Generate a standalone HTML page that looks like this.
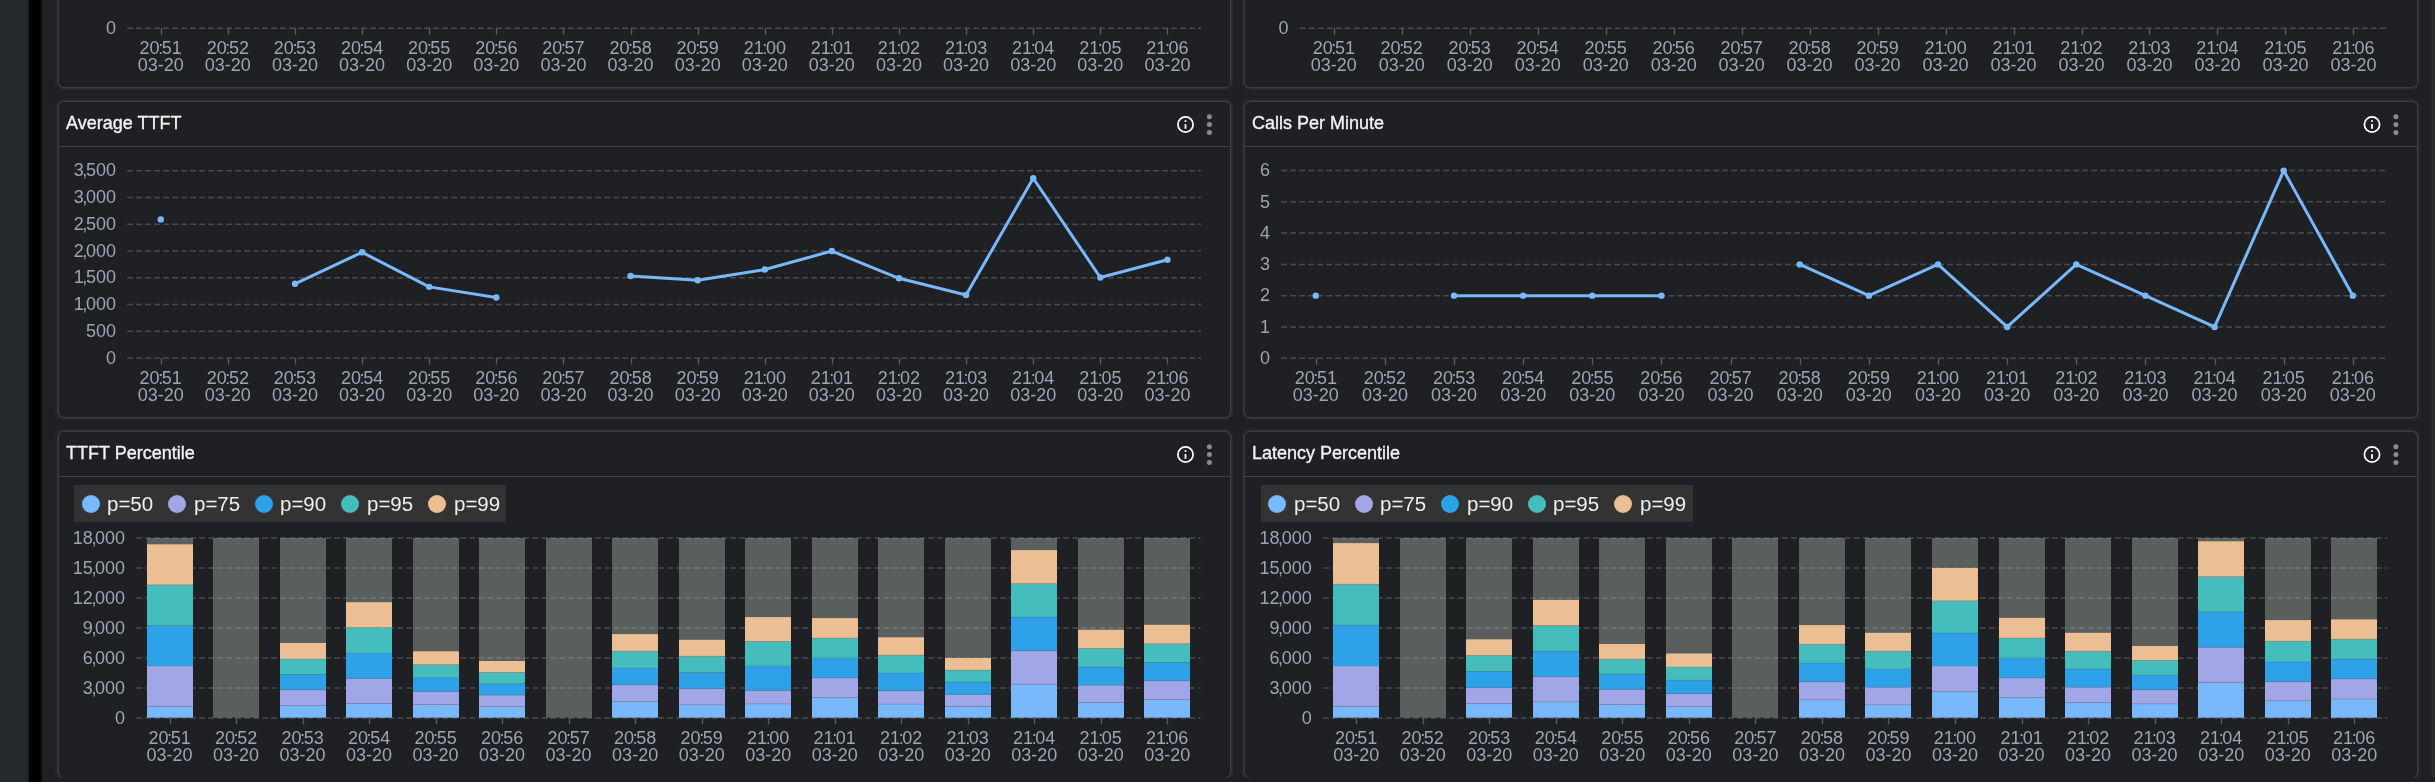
<!DOCTYPE html>
<html><head><meta charset="utf-8"><style>
html,body{margin:0;padding:0;width:2435px;height:782px;overflow:hidden;background:#1f2023;font-family:'Liberation Sans', sans-serif;}
.abs{position:absolute}
#lstrip{position:absolute;left:0;top:0;width:29px;height:782px;background:#25292d}
#black{position:absolute;left:29px;top:0;width:11px;height:782px;background:#000;box-shadow:1px 0 3px 1px rgba(0,0,0,0.85)}
#edge{position:absolute;left:43px;top:0;width:1px;height:782px;background:#27282b}
#sb{position:absolute;left:2431px;top:0;width:4px;height:777px;background:#2c2c2c}
.panel{position:absolute;box-sizing:border-box;border:1px solid #3b3e43;border-radius:6px;background:#1f2023;box-shadow:0 0 0 0.5px rgba(62,65,70,0.7), 0 0 4px 0.5px rgba(255,255,255,0.07)}
.hdrline{position:absolute;height:1.2px;background:#404246}
.title{position:absolute;font-size:18px;line-height:22px;color:#f2f2f2;white-space:nowrap;-webkit-text-stroke:0.35px #f2f2f2}
.legend{position:absolute;background:#333333}
.ldot{position:absolute;width:18px;height:18px;border-radius:50%}
.ltxt{position:absolute;font-size:20.5px;line-height:24px;color:#eeeeee;white-space:nowrap}
svg text{font-family:'Liberation Sans', sans-serif}
.abs,.title,.ltxt{will-change:transform}
</style></head><body>
<div id="lstrip"></div><div id="black"></div><div id="edge"></div><div id="sb"></div>
<div class="panel" style="left:58px;top:-229px;width:1173px;height:317px;"></div><div class="panel" style="left:1244px;top:-229px;width:1174px;height:317px;"></div><div class="panel" style="left:58px;top:101px;width:1173px;height:317px;"></div><div class="hdrline" style="left:59px;top:146px;width:1171px"></div><div class="title" style="left:66px;top:111.5px">Average TTFT</div><div class="panel" style="left:1244px;top:101px;width:1174px;height:317px;"></div><div class="hdrline" style="left:1245px;top:146px;width:1172px"></div><div class="title" style="left:1252px;top:111.5px">Calls Per Minute</div><div class="panel" style="left:58px;top:431px;width:1173px;height:347px;border-bottom:none;"></div><div class="hdrline" style="left:59px;top:476px;width:1171px"></div><div class="title" style="left:66px;top:441.5px">TTFT Percentile</div><div class="panel" style="left:1244px;top:431px;width:1174px;height:347px;border-bottom:none;"></div><div class="hdrline" style="left:1245px;top:476px;width:1172px"></div><div class="title" style="left:1252px;top:441.5px">Latency Percentile</div>
<div style="position:absolute;left:50px;top:778px;width:2375px;height:10px;background:#1f2023"></div>
<svg class="abs" style="left:0;top:0" width="2435" height="782" viewBox="0 0 2435 782">
<line x1="127.2" y1="28.20" x2="1201" y2="28.20" stroke="#4a4b4f" stroke-width="1.5" stroke-dasharray="5.8 3.2"/>
<text x="116.00" y="33.95" text-anchor="end" font-size="18" fill="#9fa4ae">0</text>
<line x1="161.5" y1="28.20" x2="161.5" y2="34.80" stroke="#5c5e63" stroke-width="1.3"/>
<text x="160.76" y="54.20" text-anchor="middle" font-size="18" fill="#9fa4ae">20<tspan dx="-1.4">:</tspan><tspan dx="-1.4">51</tspan></text>
<text x="160.76" y="71.20" text-anchor="middle" font-size="18" fill="#9fa4ae">03-20</text>
<line x1="228.5" y1="28.20" x2="228.5" y2="34.80" stroke="#5c5e63" stroke-width="1.3"/>
<text x="227.87" y="54.20" text-anchor="middle" font-size="18" fill="#9fa4ae">20<tspan dx="-1.4">:</tspan><tspan dx="-1.4">52</tspan></text>
<text x="227.87" y="71.20" text-anchor="middle" font-size="18" fill="#9fa4ae">03-20</text>
<line x1="295.5" y1="28.20" x2="295.5" y2="34.80" stroke="#5c5e63" stroke-width="1.3"/>
<text x="294.98" y="54.20" text-anchor="middle" font-size="18" fill="#9fa4ae">20<tspan dx="-1.4">:</tspan><tspan dx="-1.4">53</tspan></text>
<text x="294.98" y="71.20" text-anchor="middle" font-size="18" fill="#9fa4ae">03-20</text>
<line x1="362.5" y1="28.20" x2="362.5" y2="34.80" stroke="#5c5e63" stroke-width="1.3"/>
<text x="362.09" y="54.20" text-anchor="middle" font-size="18" fill="#9fa4ae">20<tspan dx="-1.4">:</tspan><tspan dx="-1.4">54</tspan></text>
<text x="362.09" y="71.20" text-anchor="middle" font-size="18" fill="#9fa4ae">03-20</text>
<line x1="429.5" y1="28.20" x2="429.5" y2="34.80" stroke="#5c5e63" stroke-width="1.3"/>
<text x="429.21" y="54.20" text-anchor="middle" font-size="18" fill="#9fa4ae">20<tspan dx="-1.4">:</tspan><tspan dx="-1.4">55</tspan></text>
<text x="429.21" y="71.20" text-anchor="middle" font-size="18" fill="#9fa4ae">03-20</text>
<line x1="496.5" y1="28.20" x2="496.5" y2="34.80" stroke="#5c5e63" stroke-width="1.3"/>
<text x="496.32" y="54.20" text-anchor="middle" font-size="18" fill="#9fa4ae">20<tspan dx="-1.4">:</tspan><tspan dx="-1.4">56</tspan></text>
<text x="496.32" y="71.20" text-anchor="middle" font-size="18" fill="#9fa4ae">03-20</text>
<line x1="563.5" y1="28.20" x2="563.5" y2="34.80" stroke="#5c5e63" stroke-width="1.3"/>
<text x="563.43" y="54.20" text-anchor="middle" font-size="18" fill="#9fa4ae">20<tspan dx="-1.4">:</tspan><tspan dx="-1.4">57</tspan></text>
<text x="563.43" y="71.20" text-anchor="middle" font-size="18" fill="#9fa4ae">03-20</text>
<line x1="631.5" y1="28.20" x2="631.5" y2="34.80" stroke="#5c5e63" stroke-width="1.3"/>
<text x="630.54" y="54.20" text-anchor="middle" font-size="18" fill="#9fa4ae">20<tspan dx="-1.4">:</tspan><tspan dx="-1.4">58</tspan></text>
<text x="630.54" y="71.20" text-anchor="middle" font-size="18" fill="#9fa4ae">03-20</text>
<line x1="698.5" y1="28.20" x2="698.5" y2="34.80" stroke="#5c5e63" stroke-width="1.3"/>
<text x="697.66" y="54.20" text-anchor="middle" font-size="18" fill="#9fa4ae">20<tspan dx="-1.4">:</tspan><tspan dx="-1.4">59</tspan></text>
<text x="697.66" y="71.20" text-anchor="middle" font-size="18" fill="#9fa4ae">03-20</text>
<line x1="765.5" y1="28.20" x2="765.5" y2="34.80" stroke="#5c5e63" stroke-width="1.3"/>
<text x="764.77" y="54.20" text-anchor="middle" font-size="18" fill="#9fa4ae">21<tspan dx="-1.4">:</tspan><tspan dx="-1.4">00</tspan></text>
<text x="764.77" y="71.20" text-anchor="middle" font-size="18" fill="#9fa4ae">03-20</text>
<line x1="832.5" y1="28.20" x2="832.5" y2="34.80" stroke="#5c5e63" stroke-width="1.3"/>
<text x="831.88" y="54.20" text-anchor="middle" font-size="18" fill="#9fa4ae">21<tspan dx="-1.4">:</tspan><tspan dx="-1.4">01</tspan></text>
<text x="831.88" y="71.20" text-anchor="middle" font-size="18" fill="#9fa4ae">03-20</text>
<line x1="899.5" y1="28.20" x2="899.5" y2="34.80" stroke="#5c5e63" stroke-width="1.3"/>
<text x="898.99" y="54.20" text-anchor="middle" font-size="18" fill="#9fa4ae">21<tspan dx="-1.4">:</tspan><tspan dx="-1.4">02</tspan></text>
<text x="898.99" y="71.20" text-anchor="middle" font-size="18" fill="#9fa4ae">03-20</text>
<line x1="966.5" y1="28.20" x2="966.5" y2="34.80" stroke="#5c5e63" stroke-width="1.3"/>
<text x="966.11" y="54.20" text-anchor="middle" font-size="18" fill="#9fa4ae">21<tspan dx="-1.4">:</tspan><tspan dx="-1.4">03</tspan></text>
<text x="966.11" y="71.20" text-anchor="middle" font-size="18" fill="#9fa4ae">03-20</text>
<line x1="1033.5" y1="28.20" x2="1033.5" y2="34.80" stroke="#5c5e63" stroke-width="1.3"/>
<text x="1033.22" y="54.20" text-anchor="middle" font-size="18" fill="#9fa4ae">21<tspan dx="-1.4">:</tspan><tspan dx="-1.4">04</tspan></text>
<text x="1033.22" y="71.20" text-anchor="middle" font-size="18" fill="#9fa4ae">03-20</text>
<line x1="1100.5" y1="28.20" x2="1100.5" y2="34.80" stroke="#5c5e63" stroke-width="1.3"/>
<text x="1100.33" y="54.20" text-anchor="middle" font-size="18" fill="#9fa4ae">21<tspan dx="-1.4">:</tspan><tspan dx="-1.4">05</tspan></text>
<text x="1100.33" y="71.20" text-anchor="middle" font-size="18" fill="#9fa4ae">03-20</text>
<line x1="1167.5" y1="28.20" x2="1167.5" y2="34.80" stroke="#5c5e63" stroke-width="1.3"/>
<text x="1167.44" y="54.20" text-anchor="middle" font-size="18" fill="#9fa4ae">21<tspan dx="-1.4">:</tspan><tspan dx="-1.4">06</tspan></text>
<text x="1167.44" y="71.20" text-anchor="middle" font-size="18" fill="#9fa4ae">03-20</text>
<line x1="1299.8" y1="28.20" x2="2387.4" y2="28.20" stroke="#4a4b4f" stroke-width="1.5" stroke-dasharray="5.8 3.2"/>
<text x="1288.60" y="33.95" text-anchor="end" font-size="18" fill="#9fa4ae">0</text>
<line x1="1334.5" y1="28.20" x2="1334.5" y2="34.80" stroke="#5c5e63" stroke-width="1.3"/>
<text x="1333.79" y="54.20" text-anchor="middle" font-size="18" fill="#9fa4ae">20<tspan dx="-1.4">:</tspan><tspan dx="-1.4">51</tspan></text>
<text x="1333.79" y="71.20" text-anchor="middle" font-size="18" fill="#9fa4ae">03-20</text>
<line x1="1402.5" y1="28.20" x2="1402.5" y2="34.80" stroke="#5c5e63" stroke-width="1.3"/>
<text x="1401.76" y="54.20" text-anchor="middle" font-size="18" fill="#9fa4ae">20<tspan dx="-1.4">:</tspan><tspan dx="-1.4">52</tspan></text>
<text x="1401.76" y="71.20" text-anchor="middle" font-size="18" fill="#9fa4ae">03-20</text>
<line x1="1470.5" y1="28.20" x2="1470.5" y2="34.80" stroke="#5c5e63" stroke-width="1.3"/>
<text x="1469.74" y="54.20" text-anchor="middle" font-size="18" fill="#9fa4ae">20<tspan dx="-1.4">:</tspan><tspan dx="-1.4">53</tspan></text>
<text x="1469.74" y="71.20" text-anchor="middle" font-size="18" fill="#9fa4ae">03-20</text>
<line x1="1538.5" y1="28.20" x2="1538.5" y2="34.80" stroke="#5c5e63" stroke-width="1.3"/>
<text x="1537.71" y="54.20" text-anchor="middle" font-size="18" fill="#9fa4ae">20<tspan dx="-1.4">:</tspan><tspan dx="-1.4">54</tspan></text>
<text x="1537.71" y="71.20" text-anchor="middle" font-size="18" fill="#9fa4ae">03-20</text>
<line x1="1606.5" y1="28.20" x2="1606.5" y2="34.80" stroke="#5c5e63" stroke-width="1.3"/>
<text x="1605.69" y="54.20" text-anchor="middle" font-size="18" fill="#9fa4ae">20<tspan dx="-1.4">:</tspan><tspan dx="-1.4">55</tspan></text>
<text x="1605.69" y="71.20" text-anchor="middle" font-size="18" fill="#9fa4ae">03-20</text>
<line x1="1674.5" y1="28.20" x2="1674.5" y2="34.80" stroke="#5c5e63" stroke-width="1.3"/>
<text x="1673.66" y="54.20" text-anchor="middle" font-size="18" fill="#9fa4ae">20<tspan dx="-1.4">:</tspan><tspan dx="-1.4">56</tspan></text>
<text x="1673.66" y="71.20" text-anchor="middle" font-size="18" fill="#9fa4ae">03-20</text>
<line x1="1742.5" y1="28.20" x2="1742.5" y2="34.80" stroke="#5c5e63" stroke-width="1.3"/>
<text x="1741.64" y="54.20" text-anchor="middle" font-size="18" fill="#9fa4ae">20<tspan dx="-1.4">:</tspan><tspan dx="-1.4">57</tspan></text>
<text x="1741.64" y="71.20" text-anchor="middle" font-size="18" fill="#9fa4ae">03-20</text>
<line x1="1810.5" y1="28.20" x2="1810.5" y2="34.80" stroke="#5c5e63" stroke-width="1.3"/>
<text x="1809.61" y="54.20" text-anchor="middle" font-size="18" fill="#9fa4ae">20<tspan dx="-1.4">:</tspan><tspan dx="-1.4">58</tspan></text>
<text x="1809.61" y="71.20" text-anchor="middle" font-size="18" fill="#9fa4ae">03-20</text>
<line x1="1878.5" y1="28.20" x2="1878.5" y2="34.80" stroke="#5c5e63" stroke-width="1.3"/>
<text x="1877.59" y="54.20" text-anchor="middle" font-size="18" fill="#9fa4ae">20<tspan dx="-1.4">:</tspan><tspan dx="-1.4">59</tspan></text>
<text x="1877.59" y="71.20" text-anchor="middle" font-size="18" fill="#9fa4ae">03-20</text>
<line x1="1946.5" y1="28.20" x2="1946.5" y2="34.80" stroke="#5c5e63" stroke-width="1.3"/>
<text x="1945.56" y="54.20" text-anchor="middle" font-size="18" fill="#9fa4ae">21<tspan dx="-1.4">:</tspan><tspan dx="-1.4">00</tspan></text>
<text x="1945.56" y="71.20" text-anchor="middle" font-size="18" fill="#9fa4ae">03-20</text>
<line x1="2014.5" y1="28.20" x2="2014.5" y2="34.80" stroke="#5c5e63" stroke-width="1.3"/>
<text x="2013.54" y="54.20" text-anchor="middle" font-size="18" fill="#9fa4ae">21<tspan dx="-1.4">:</tspan><tspan dx="-1.4">01</tspan></text>
<text x="2013.54" y="71.20" text-anchor="middle" font-size="18" fill="#9fa4ae">03-20</text>
<line x1="2082.5" y1="28.20" x2="2082.5" y2="34.80" stroke="#5c5e63" stroke-width="1.3"/>
<text x="2081.51" y="54.20" text-anchor="middle" font-size="18" fill="#9fa4ae">21<tspan dx="-1.4">:</tspan><tspan dx="-1.4">02</tspan></text>
<text x="2081.51" y="71.20" text-anchor="middle" font-size="18" fill="#9fa4ae">03-20</text>
<line x1="2149.5" y1="28.20" x2="2149.5" y2="34.80" stroke="#5c5e63" stroke-width="1.3"/>
<text x="2149.49" y="54.20" text-anchor="middle" font-size="18" fill="#9fa4ae">21<tspan dx="-1.4">:</tspan><tspan dx="-1.4">03</tspan></text>
<text x="2149.49" y="71.20" text-anchor="middle" font-size="18" fill="#9fa4ae">03-20</text>
<line x1="2217.5" y1="28.20" x2="2217.5" y2="34.80" stroke="#5c5e63" stroke-width="1.3"/>
<text x="2217.46" y="54.20" text-anchor="middle" font-size="18" fill="#9fa4ae">21<tspan dx="-1.4">:</tspan><tspan dx="-1.4">04</tspan></text>
<text x="2217.46" y="71.20" text-anchor="middle" font-size="18" fill="#9fa4ae">03-20</text>
<line x1="2285.5" y1="28.20" x2="2285.5" y2="34.80" stroke="#5c5e63" stroke-width="1.3"/>
<text x="2285.44" y="54.20" text-anchor="middle" font-size="18" fill="#9fa4ae">21<tspan dx="-1.4">:</tspan><tspan dx="-1.4">05</tspan></text>
<text x="2285.44" y="71.20" text-anchor="middle" font-size="18" fill="#9fa4ae">03-20</text>
<line x1="2353.5" y1="28.20" x2="2353.5" y2="34.80" stroke="#5c5e63" stroke-width="1.3"/>
<text x="2353.41" y="54.20" text-anchor="middle" font-size="18" fill="#9fa4ae">21<tspan dx="-1.4">:</tspan><tspan dx="-1.4">06</tspan></text>
<text x="2353.41" y="71.20" text-anchor="middle" font-size="18" fill="#9fa4ae">03-20</text>
<line x1="127.2" y1="358.00" x2="1201" y2="358.00" stroke="#4a4b4f" stroke-width="1.5" stroke-dasharray="5.8 3.2"/>
<text x="116.00" y="363.75" text-anchor="end" font-size="18" fill="#9fa4ae">0</text>
<line x1="127.2" y1="331.24" x2="1201" y2="331.24" stroke="#4a4b4f" stroke-width="1.5" stroke-dasharray="5.8 3.2"/>
<text x="116.00" y="336.99" text-anchor="end" font-size="18" fill="#9fa4ae">500</text>
<line x1="127.2" y1="304.48" x2="1201" y2="304.48" stroke="#4a4b4f" stroke-width="1.5" stroke-dasharray="5.8 3.2"/>
<text x="116.00" y="310.23" text-anchor="end" font-size="18" fill="#9fa4ae">1<tspan dx="-1.4">,</tspan><tspan dx="-1.4">000</tspan></text>
<line x1="127.2" y1="277.72" x2="1201" y2="277.72" stroke="#4a4b4f" stroke-width="1.5" stroke-dasharray="5.8 3.2"/>
<text x="116.00" y="283.47" text-anchor="end" font-size="18" fill="#9fa4ae">1<tspan dx="-1.4">,</tspan><tspan dx="-1.4">500</tspan></text>
<line x1="127.2" y1="250.96" x2="1201" y2="250.96" stroke="#4a4b4f" stroke-width="1.5" stroke-dasharray="5.8 3.2"/>
<text x="116.00" y="256.71" text-anchor="end" font-size="18" fill="#9fa4ae">2<tspan dx="-1.4">,</tspan><tspan dx="-1.4">000</tspan></text>
<line x1="127.2" y1="224.20" x2="1201" y2="224.20" stroke="#4a4b4f" stroke-width="1.5" stroke-dasharray="5.8 3.2"/>
<text x="116.00" y="229.95" text-anchor="end" font-size="18" fill="#9fa4ae">2<tspan dx="-1.4">,</tspan><tspan dx="-1.4">500</tspan></text>
<line x1="127.2" y1="197.44" x2="1201" y2="197.44" stroke="#4a4b4f" stroke-width="1.5" stroke-dasharray="5.8 3.2"/>
<text x="116.00" y="203.19" text-anchor="end" font-size="18" fill="#9fa4ae">3<tspan dx="-1.4">,</tspan><tspan dx="-1.4">000</tspan></text>
<line x1="127.2" y1="170.68" x2="1201" y2="170.68" stroke="#4a4b4f" stroke-width="1.5" stroke-dasharray="5.8 3.2"/>
<text x="116.00" y="176.43" text-anchor="end" font-size="18" fill="#9fa4ae">3<tspan dx="-1.4">,</tspan><tspan dx="-1.4">500</tspan></text>
<line x1="161.5" y1="358.00" x2="161.5" y2="364.60" stroke="#5c5e63" stroke-width="1.3"/>
<text x="160.76" y="384.00" text-anchor="middle" font-size="18" fill="#9fa4ae">20<tspan dx="-1.4">:</tspan><tspan dx="-1.4">51</tspan></text>
<text x="160.76" y="401.00" text-anchor="middle" font-size="18" fill="#9fa4ae">03-20</text>
<line x1="228.5" y1="358.00" x2="228.5" y2="364.60" stroke="#5c5e63" stroke-width="1.3"/>
<text x="227.87" y="384.00" text-anchor="middle" font-size="18" fill="#9fa4ae">20<tspan dx="-1.4">:</tspan><tspan dx="-1.4">52</tspan></text>
<text x="227.87" y="401.00" text-anchor="middle" font-size="18" fill="#9fa4ae">03-20</text>
<line x1="295.5" y1="358.00" x2="295.5" y2="364.60" stroke="#5c5e63" stroke-width="1.3"/>
<text x="294.98" y="384.00" text-anchor="middle" font-size="18" fill="#9fa4ae">20<tspan dx="-1.4">:</tspan><tspan dx="-1.4">53</tspan></text>
<text x="294.98" y="401.00" text-anchor="middle" font-size="18" fill="#9fa4ae">03-20</text>
<line x1="362.5" y1="358.00" x2="362.5" y2="364.60" stroke="#5c5e63" stroke-width="1.3"/>
<text x="362.09" y="384.00" text-anchor="middle" font-size="18" fill="#9fa4ae">20<tspan dx="-1.4">:</tspan><tspan dx="-1.4">54</tspan></text>
<text x="362.09" y="401.00" text-anchor="middle" font-size="18" fill="#9fa4ae">03-20</text>
<line x1="429.5" y1="358.00" x2="429.5" y2="364.60" stroke="#5c5e63" stroke-width="1.3"/>
<text x="429.21" y="384.00" text-anchor="middle" font-size="18" fill="#9fa4ae">20<tspan dx="-1.4">:</tspan><tspan dx="-1.4">55</tspan></text>
<text x="429.21" y="401.00" text-anchor="middle" font-size="18" fill="#9fa4ae">03-20</text>
<line x1="496.5" y1="358.00" x2="496.5" y2="364.60" stroke="#5c5e63" stroke-width="1.3"/>
<text x="496.32" y="384.00" text-anchor="middle" font-size="18" fill="#9fa4ae">20<tspan dx="-1.4">:</tspan><tspan dx="-1.4">56</tspan></text>
<text x="496.32" y="401.00" text-anchor="middle" font-size="18" fill="#9fa4ae">03-20</text>
<line x1="563.5" y1="358.00" x2="563.5" y2="364.60" stroke="#5c5e63" stroke-width="1.3"/>
<text x="563.43" y="384.00" text-anchor="middle" font-size="18" fill="#9fa4ae">20<tspan dx="-1.4">:</tspan><tspan dx="-1.4">57</tspan></text>
<text x="563.43" y="401.00" text-anchor="middle" font-size="18" fill="#9fa4ae">03-20</text>
<line x1="631.5" y1="358.00" x2="631.5" y2="364.60" stroke="#5c5e63" stroke-width="1.3"/>
<text x="630.54" y="384.00" text-anchor="middle" font-size="18" fill="#9fa4ae">20<tspan dx="-1.4">:</tspan><tspan dx="-1.4">58</tspan></text>
<text x="630.54" y="401.00" text-anchor="middle" font-size="18" fill="#9fa4ae">03-20</text>
<line x1="698.5" y1="358.00" x2="698.5" y2="364.60" stroke="#5c5e63" stroke-width="1.3"/>
<text x="697.66" y="384.00" text-anchor="middle" font-size="18" fill="#9fa4ae">20<tspan dx="-1.4">:</tspan><tspan dx="-1.4">59</tspan></text>
<text x="697.66" y="401.00" text-anchor="middle" font-size="18" fill="#9fa4ae">03-20</text>
<line x1="765.5" y1="358.00" x2="765.5" y2="364.60" stroke="#5c5e63" stroke-width="1.3"/>
<text x="764.77" y="384.00" text-anchor="middle" font-size="18" fill="#9fa4ae">21<tspan dx="-1.4">:</tspan><tspan dx="-1.4">00</tspan></text>
<text x="764.77" y="401.00" text-anchor="middle" font-size="18" fill="#9fa4ae">03-20</text>
<line x1="832.5" y1="358.00" x2="832.5" y2="364.60" stroke="#5c5e63" stroke-width="1.3"/>
<text x="831.88" y="384.00" text-anchor="middle" font-size="18" fill="#9fa4ae">21<tspan dx="-1.4">:</tspan><tspan dx="-1.4">01</tspan></text>
<text x="831.88" y="401.00" text-anchor="middle" font-size="18" fill="#9fa4ae">03-20</text>
<line x1="899.5" y1="358.00" x2="899.5" y2="364.60" stroke="#5c5e63" stroke-width="1.3"/>
<text x="898.99" y="384.00" text-anchor="middle" font-size="18" fill="#9fa4ae">21<tspan dx="-1.4">:</tspan><tspan dx="-1.4">02</tspan></text>
<text x="898.99" y="401.00" text-anchor="middle" font-size="18" fill="#9fa4ae">03-20</text>
<line x1="966.5" y1="358.00" x2="966.5" y2="364.60" stroke="#5c5e63" stroke-width="1.3"/>
<text x="966.11" y="384.00" text-anchor="middle" font-size="18" fill="#9fa4ae">21<tspan dx="-1.4">:</tspan><tspan dx="-1.4">03</tspan></text>
<text x="966.11" y="401.00" text-anchor="middle" font-size="18" fill="#9fa4ae">03-20</text>
<line x1="1033.5" y1="358.00" x2="1033.5" y2="364.60" stroke="#5c5e63" stroke-width="1.3"/>
<text x="1033.22" y="384.00" text-anchor="middle" font-size="18" fill="#9fa4ae">21<tspan dx="-1.4">:</tspan><tspan dx="-1.4">04</tspan></text>
<text x="1033.22" y="401.00" text-anchor="middle" font-size="18" fill="#9fa4ae">03-20</text>
<line x1="1100.5" y1="358.00" x2="1100.5" y2="364.60" stroke="#5c5e63" stroke-width="1.3"/>
<text x="1100.33" y="384.00" text-anchor="middle" font-size="18" fill="#9fa4ae">21<tspan dx="-1.4">:</tspan><tspan dx="-1.4">05</tspan></text>
<text x="1100.33" y="401.00" text-anchor="middle" font-size="18" fill="#9fa4ae">03-20</text>
<line x1="1167.5" y1="358.00" x2="1167.5" y2="364.60" stroke="#5c5e63" stroke-width="1.3"/>
<text x="1167.44" y="384.00" text-anchor="middle" font-size="18" fill="#9fa4ae">21<tspan dx="-1.4">:</tspan><tspan dx="-1.4">06</tspan></text>
<text x="1167.44" y="401.00" text-anchor="middle" font-size="18" fill="#9fa4ae">03-20</text>
<polyline points="294.98,283.77 362.09,252.30 429.21,286.87 496.32,297.52" fill="none" stroke="#78b8fb" stroke-width="3" stroke-linejoin="round"/>
<polyline points="630.54,276.01 697.66,280.24 764.77,269.53 831.88,251.07 898.99,278.31 966.11,295.01 1033.22,178.28 1100.33,277.51 1167.44,259.74" fill="none" stroke="#78b8fb" stroke-width="3" stroke-linejoin="round"/>
<circle cx="160.76" cy="219.38" r="3.2" fill="#78b8fb"/>
<circle cx="294.98" cy="283.77" r="3.2" fill="#78b8fb"/>
<circle cx="362.09" cy="252.30" r="3.2" fill="#78b8fb"/>
<circle cx="429.21" cy="286.87" r="3.2" fill="#78b8fb"/>
<circle cx="496.32" cy="297.52" r="3.2" fill="#78b8fb"/>
<circle cx="630.54" cy="276.01" r="3.2" fill="#78b8fb"/>
<circle cx="697.66" cy="280.24" r="3.2" fill="#78b8fb"/>
<circle cx="764.77" cy="269.53" r="3.2" fill="#78b8fb"/>
<circle cx="831.88" cy="251.07" r="3.2" fill="#78b8fb"/>
<circle cx="898.99" cy="278.31" r="3.2" fill="#78b8fb"/>
<circle cx="966.11" cy="295.01" r="3.2" fill="#78b8fb"/>
<circle cx="1033.22" cy="178.28" r="3.2" fill="#78b8fb"/>
<circle cx="1100.33" cy="277.51" r="3.2" fill="#78b8fb"/>
<circle cx="1167.44" cy="259.74" r="3.2" fill="#78b8fb"/>
<line x1="1281.2" y1="358.20" x2="2387.4" y2="358.20" stroke="#4a4b4f" stroke-width="1.5" stroke-dasharray="5.8 3.2"/>
<text x="1270.00" y="363.95" text-anchor="end" font-size="18" fill="#9fa4ae">0</text>
<line x1="1281.2" y1="326.93" x2="2387.4" y2="326.93" stroke="#4a4b4f" stroke-width="1.5" stroke-dasharray="5.8 3.2"/>
<text x="1270.00" y="332.68" text-anchor="end" font-size="18" fill="#9fa4ae">1</text>
<line x1="1281.2" y1="295.66" x2="2387.4" y2="295.66" stroke="#4a4b4f" stroke-width="1.5" stroke-dasharray="5.8 3.2"/>
<text x="1270.00" y="301.41" text-anchor="end" font-size="18" fill="#9fa4ae">2</text>
<line x1="1281.2" y1="264.39" x2="2387.4" y2="264.39" stroke="#4a4b4f" stroke-width="1.5" stroke-dasharray="5.8 3.2"/>
<text x="1270.00" y="270.14" text-anchor="end" font-size="18" fill="#9fa4ae">3</text>
<line x1="1281.2" y1="233.12" x2="2387.4" y2="233.12" stroke="#4a4b4f" stroke-width="1.5" stroke-dasharray="5.8 3.2"/>
<text x="1270.00" y="238.87" text-anchor="end" font-size="18" fill="#9fa4ae">4</text>
<line x1="1281.2" y1="201.85" x2="2387.4" y2="201.85" stroke="#4a4b4f" stroke-width="1.5" stroke-dasharray="5.8 3.2"/>
<text x="1270.00" y="207.60" text-anchor="end" font-size="18" fill="#9fa4ae">5</text>
<line x1="1281.2" y1="170.58" x2="2387.4" y2="170.58" stroke="#4a4b4f" stroke-width="1.5" stroke-dasharray="5.8 3.2"/>
<text x="1270.00" y="176.33" text-anchor="end" font-size="18" fill="#9fa4ae">6</text>
<line x1="1316.5" y1="358.20" x2="1316.5" y2="364.80" stroke="#5c5e63" stroke-width="1.3"/>
<text x="1315.77" y="384.20" text-anchor="middle" font-size="18" fill="#9fa4ae">20<tspan dx="-1.4">:</tspan><tspan dx="-1.4">51</tspan></text>
<text x="1315.77" y="401.20" text-anchor="middle" font-size="18" fill="#9fa4ae">03-20</text>
<line x1="1385.5" y1="358.20" x2="1385.5" y2="364.80" stroke="#5c5e63" stroke-width="1.3"/>
<text x="1384.91" y="384.20" text-anchor="middle" font-size="18" fill="#9fa4ae">20<tspan dx="-1.4">:</tspan><tspan dx="-1.4">52</tspan></text>
<text x="1384.91" y="401.20" text-anchor="middle" font-size="18" fill="#9fa4ae">03-20</text>
<line x1="1454.5" y1="358.20" x2="1454.5" y2="364.80" stroke="#5c5e63" stroke-width="1.3"/>
<text x="1454.04" y="384.20" text-anchor="middle" font-size="18" fill="#9fa4ae">20<tspan dx="-1.4">:</tspan><tspan dx="-1.4">53</tspan></text>
<text x="1454.04" y="401.20" text-anchor="middle" font-size="18" fill="#9fa4ae">03-20</text>
<line x1="1523.5" y1="358.20" x2="1523.5" y2="364.80" stroke="#5c5e63" stroke-width="1.3"/>
<text x="1523.18" y="384.20" text-anchor="middle" font-size="18" fill="#9fa4ae">20<tspan dx="-1.4">:</tspan><tspan dx="-1.4">54</tspan></text>
<text x="1523.18" y="401.20" text-anchor="middle" font-size="18" fill="#9fa4ae">03-20</text>
<line x1="1592.5" y1="358.20" x2="1592.5" y2="364.80" stroke="#5c5e63" stroke-width="1.3"/>
<text x="1592.32" y="384.20" text-anchor="middle" font-size="18" fill="#9fa4ae">20<tspan dx="-1.4">:</tspan><tspan dx="-1.4">55</tspan></text>
<text x="1592.32" y="401.20" text-anchor="middle" font-size="18" fill="#9fa4ae">03-20</text>
<line x1="1661.5" y1="358.20" x2="1661.5" y2="364.80" stroke="#5c5e63" stroke-width="1.3"/>
<text x="1661.46" y="384.20" text-anchor="middle" font-size="18" fill="#9fa4ae">20<tspan dx="-1.4">:</tspan><tspan dx="-1.4">56</tspan></text>
<text x="1661.46" y="401.20" text-anchor="middle" font-size="18" fill="#9fa4ae">03-20</text>
<line x1="1731.5" y1="358.20" x2="1731.5" y2="364.80" stroke="#5c5e63" stroke-width="1.3"/>
<text x="1730.59" y="384.20" text-anchor="middle" font-size="18" fill="#9fa4ae">20<tspan dx="-1.4">:</tspan><tspan dx="-1.4">57</tspan></text>
<text x="1730.59" y="401.20" text-anchor="middle" font-size="18" fill="#9fa4ae">03-20</text>
<line x1="1800.5" y1="358.20" x2="1800.5" y2="364.80" stroke="#5c5e63" stroke-width="1.3"/>
<text x="1799.73" y="384.20" text-anchor="middle" font-size="18" fill="#9fa4ae">20<tspan dx="-1.4">:</tspan><tspan dx="-1.4">58</tspan></text>
<text x="1799.73" y="401.20" text-anchor="middle" font-size="18" fill="#9fa4ae">03-20</text>
<line x1="1869.5" y1="358.20" x2="1869.5" y2="364.80" stroke="#5c5e63" stroke-width="1.3"/>
<text x="1868.87" y="384.20" text-anchor="middle" font-size="18" fill="#9fa4ae">20<tspan dx="-1.4">:</tspan><tspan dx="-1.4">59</tspan></text>
<text x="1868.87" y="401.20" text-anchor="middle" font-size="18" fill="#9fa4ae">03-20</text>
<line x1="1938.5" y1="358.20" x2="1938.5" y2="364.80" stroke="#5c5e63" stroke-width="1.3"/>
<text x="1938.01" y="384.20" text-anchor="middle" font-size="18" fill="#9fa4ae">21<tspan dx="-1.4">:</tspan><tspan dx="-1.4">00</tspan></text>
<text x="1938.01" y="401.20" text-anchor="middle" font-size="18" fill="#9fa4ae">03-20</text>
<line x1="2007.5" y1="358.20" x2="2007.5" y2="364.80" stroke="#5c5e63" stroke-width="1.3"/>
<text x="2007.14" y="384.20" text-anchor="middle" font-size="18" fill="#9fa4ae">21<tspan dx="-1.4">:</tspan><tspan dx="-1.4">01</tspan></text>
<text x="2007.14" y="401.20" text-anchor="middle" font-size="18" fill="#9fa4ae">03-20</text>
<line x1="2076.5" y1="358.20" x2="2076.5" y2="364.80" stroke="#5c5e63" stroke-width="1.3"/>
<text x="2076.28" y="384.20" text-anchor="middle" font-size="18" fill="#9fa4ae">21<tspan dx="-1.4">:</tspan><tspan dx="-1.4">02</tspan></text>
<text x="2076.28" y="401.20" text-anchor="middle" font-size="18" fill="#9fa4ae">03-20</text>
<line x1="2145.5" y1="358.20" x2="2145.5" y2="364.80" stroke="#5c5e63" stroke-width="1.3"/>
<text x="2145.42" y="384.20" text-anchor="middle" font-size="18" fill="#9fa4ae">21<tspan dx="-1.4">:</tspan><tspan dx="-1.4">03</tspan></text>
<text x="2145.42" y="401.20" text-anchor="middle" font-size="18" fill="#9fa4ae">03-20</text>
<line x1="2215.5" y1="358.20" x2="2215.5" y2="364.80" stroke="#5c5e63" stroke-width="1.3"/>
<text x="2214.56" y="384.20" text-anchor="middle" font-size="18" fill="#9fa4ae">21<tspan dx="-1.4">:</tspan><tspan dx="-1.4">04</tspan></text>
<text x="2214.56" y="401.20" text-anchor="middle" font-size="18" fill="#9fa4ae">03-20</text>
<line x1="2284.5" y1="358.20" x2="2284.5" y2="364.80" stroke="#5c5e63" stroke-width="1.3"/>
<text x="2283.69" y="384.20" text-anchor="middle" font-size="18" fill="#9fa4ae">21<tspan dx="-1.4">:</tspan><tspan dx="-1.4">05</tspan></text>
<text x="2283.69" y="401.20" text-anchor="middle" font-size="18" fill="#9fa4ae">03-20</text>
<line x1="2353.5" y1="358.20" x2="2353.5" y2="364.80" stroke="#5c5e63" stroke-width="1.3"/>
<text x="2352.83" y="384.20" text-anchor="middle" font-size="18" fill="#9fa4ae">21<tspan dx="-1.4">:</tspan><tspan dx="-1.4">06</tspan></text>
<text x="2352.83" y="401.20" text-anchor="middle" font-size="18" fill="#9fa4ae">03-20</text>
<polyline points="1454.04,295.66 1523.18,295.66 1592.32,295.66 1661.46,295.66" fill="none" stroke="#78b8fb" stroke-width="3" stroke-linejoin="round"/>
<polyline points="1799.73,264.39 1868.87,295.66 1938.01,264.39 2007.14,326.93 2076.28,264.39 2145.42,295.66 2214.56,326.93 2283.69,170.58 2352.83,295.66" fill="none" stroke="#78b8fb" stroke-width="3" stroke-linejoin="round"/>
<circle cx="1315.77" cy="295.66" r="3.2" fill="#78b8fb"/>
<circle cx="1454.04" cy="295.66" r="3.2" fill="#78b8fb"/>
<circle cx="1523.18" cy="295.66" r="3.2" fill="#78b8fb"/>
<circle cx="1592.32" cy="295.66" r="3.2" fill="#78b8fb"/>
<circle cx="1661.46" cy="295.66" r="3.2" fill="#78b8fb"/>
<circle cx="1799.73" cy="264.39" r="3.2" fill="#78b8fb"/>
<circle cx="1868.87" cy="295.66" r="3.2" fill="#78b8fb"/>
<circle cx="1938.01" cy="264.39" r="3.2" fill="#78b8fb"/>
<circle cx="2007.14" cy="326.93" r="3.2" fill="#78b8fb"/>
<circle cx="2076.28" cy="264.39" r="3.2" fill="#78b8fb"/>
<circle cx="2145.42" cy="295.66" r="3.2" fill="#78b8fb"/>
<circle cx="2214.56" cy="326.93" r="3.2" fill="#78b8fb"/>
<circle cx="2283.69" cy="170.58" r="3.2" fill="#78b8fb"/>
<circle cx="2352.83" cy="295.66" r="3.2" fill="#78b8fb"/>
<line x1="136.3" y1="718.10" x2="1200.5" y2="718.10" stroke="#4a4b4f" stroke-width="1.5" stroke-dasharray="5.8 3.2"/>
<text x="125.10" y="723.85" text-anchor="end" font-size="18" fill="#9fa4ae">0</text>
<line x1="136.3" y1="688.10" x2="1200.5" y2="688.10" stroke="#4a4b4f" stroke-width="1.5" stroke-dasharray="5.8 3.2"/>
<text x="125.10" y="693.85" text-anchor="end" font-size="18" fill="#9fa4ae">3<tspan dx="-1.4">,</tspan><tspan dx="-1.4">000</tspan></text>
<line x1="136.3" y1="658.10" x2="1200.5" y2="658.10" stroke="#4a4b4f" stroke-width="1.5" stroke-dasharray="5.8 3.2"/>
<text x="125.10" y="663.85" text-anchor="end" font-size="18" fill="#9fa4ae">6<tspan dx="-1.4">,</tspan><tspan dx="-1.4">000</tspan></text>
<line x1="136.3" y1="628.10" x2="1200.5" y2="628.10" stroke="#4a4b4f" stroke-width="1.5" stroke-dasharray="5.8 3.2"/>
<text x="125.10" y="633.85" text-anchor="end" font-size="18" fill="#9fa4ae">9<tspan dx="-1.4">,</tspan><tspan dx="-1.4">000</tspan></text>
<line x1="136.3" y1="598.10" x2="1200.5" y2="598.10" stroke="#4a4b4f" stroke-width="1.5" stroke-dasharray="5.8 3.2"/>
<text x="125.10" y="603.85" text-anchor="end" font-size="18" fill="#9fa4ae">12<tspan dx="-1.4">,</tspan><tspan dx="-1.4">000</tspan></text>
<line x1="136.3" y1="568.10" x2="1200.5" y2="568.10" stroke="#4a4b4f" stroke-width="1.5" stroke-dasharray="5.8 3.2"/>
<text x="125.10" y="573.85" text-anchor="end" font-size="18" fill="#9fa4ae">15<tspan dx="-1.4">,</tspan><tspan dx="-1.4">000</tspan></text>
<line x1="136.3" y1="538.10" x2="1200.5" y2="538.10" stroke="#4a4b4f" stroke-width="1.5" stroke-dasharray="5.8 3.2"/>
<text x="125.10" y="543.85" text-anchor="end" font-size="18" fill="#9fa4ae">18<tspan dx="-1.4">,</tspan><tspan dx="-1.4">000</tspan></text>
<rect x="147.00" y="538.00" width="46" height="179.60" fill="rgba(176,186,178,0.41)"/>
<rect x="147.00" y="706.40" width="46" height="11.20" fill="#78b8fb"/>
<rect x="147.00" y="666.00" width="46" height="40.40" fill="#a1a7e6"/>
<rect x="147.00" y="625.60" width="46" height="40.40" fill="#2ea2e8"/>
<rect x="147.00" y="584.90" width="46" height="40.70" fill="#45bdbd"/>
<rect x="147.00" y="544.30" width="46" height="40.60" fill="#ebbe93"/>
<line x1="147.00" y1="706.40" x2="193.00" y2="706.40" stroke="rgba(70,72,80,0.2)" stroke-width="1"/>
<line x1="147.00" y1="666.00" x2="193.00" y2="666.00" stroke="rgba(70,72,80,0.2)" stroke-width="1"/>
<line x1="147.00" y1="625.60" x2="193.00" y2="625.60" stroke="rgba(70,72,80,0.2)" stroke-width="1"/>
<line x1="147.00" y1="584.90" x2="193.00" y2="584.90" stroke="rgba(70,72,80,0.2)" stroke-width="1"/>
<rect x="213.00" y="538.00" width="46" height="179.60" fill="rgba(176,186,178,0.41)"/>
<rect x="280.00" y="538.00" width="46" height="179.60" fill="rgba(176,186,178,0.41)"/>
<rect x="280.00" y="705.60" width="46" height="12.00" fill="#78b8fb"/>
<rect x="280.00" y="689.90" width="46" height="15.70" fill="#a1a7e6"/>
<rect x="280.00" y="674.50" width="46" height="15.40" fill="#2ea2e8"/>
<rect x="280.00" y="659.00" width="46" height="15.50" fill="#45bdbd"/>
<rect x="280.00" y="643.00" width="46" height="16.00" fill="#ebbe93"/>
<line x1="280.00" y1="705.60" x2="326.00" y2="705.60" stroke="rgba(70,72,80,0.2)" stroke-width="1"/>
<line x1="280.00" y1="689.90" x2="326.00" y2="689.90" stroke="rgba(70,72,80,0.2)" stroke-width="1"/>
<line x1="280.00" y1="674.50" x2="326.00" y2="674.50" stroke="rgba(70,72,80,0.2)" stroke-width="1"/>
<line x1="280.00" y1="659.00" x2="326.00" y2="659.00" stroke="rgba(70,72,80,0.2)" stroke-width="1"/>
<rect x="346.00" y="538.00" width="46" height="179.60" fill="rgba(176,186,178,0.41)"/>
<rect x="346.00" y="703.40" width="46" height="14.20" fill="#78b8fb"/>
<rect x="346.00" y="678.40" width="46" height="25.00" fill="#a1a7e6"/>
<rect x="346.00" y="653.00" width="46" height="25.40" fill="#2ea2e8"/>
<rect x="346.00" y="627.60" width="46" height="25.40" fill="#45bdbd"/>
<rect x="346.00" y="602.20" width="46" height="25.40" fill="#ebbe93"/>
<line x1="346.00" y1="703.40" x2="392.00" y2="703.40" stroke="rgba(70,72,80,0.2)" stroke-width="1"/>
<line x1="346.00" y1="678.40" x2="392.00" y2="678.40" stroke="rgba(70,72,80,0.2)" stroke-width="1"/>
<line x1="346.00" y1="653.00" x2="392.00" y2="653.00" stroke="rgba(70,72,80,0.2)" stroke-width="1"/>
<line x1="346.00" y1="627.60" x2="392.00" y2="627.60" stroke="rgba(70,72,80,0.2)" stroke-width="1"/>
<rect x="413.00" y="538.00" width="46" height="179.60" fill="rgba(176,186,178,0.41)"/>
<rect x="413.00" y="704.60" width="46" height="13.00" fill="#78b8fb"/>
<rect x="413.00" y="691.40" width="46" height="13.20" fill="#a1a7e6"/>
<rect x="413.00" y="677.90" width="46" height="13.50" fill="#2ea2e8"/>
<rect x="413.00" y="664.70" width="46" height="13.20" fill="#45bdbd"/>
<rect x="413.00" y="651.30" width="46" height="13.40" fill="#ebbe93"/>
<line x1="413.00" y1="704.60" x2="459.00" y2="704.60" stroke="rgba(70,72,80,0.2)" stroke-width="1"/>
<line x1="413.00" y1="691.40" x2="459.00" y2="691.40" stroke="rgba(70,72,80,0.2)" stroke-width="1"/>
<line x1="413.00" y1="677.90" x2="459.00" y2="677.90" stroke="rgba(70,72,80,0.2)" stroke-width="1"/>
<line x1="413.00" y1="664.70" x2="459.00" y2="664.70" stroke="rgba(70,72,80,0.2)" stroke-width="1"/>
<rect x="479.00" y="538.00" width="46" height="179.60" fill="rgba(176,186,178,0.41)"/>
<rect x="479.00" y="706.60" width="46" height="11.00" fill="#78b8fb"/>
<rect x="479.00" y="695.10" width="46" height="11.50" fill="#a1a7e6"/>
<rect x="479.00" y="683.70" width="46" height="11.40" fill="#2ea2e8"/>
<rect x="479.00" y="672.50" width="46" height="11.20" fill="#45bdbd"/>
<rect x="479.00" y="661.00" width="46" height="11.50" fill="#ebbe93"/>
<line x1="479.00" y1="706.60" x2="525.00" y2="706.60" stroke="rgba(70,72,80,0.2)" stroke-width="1"/>
<line x1="479.00" y1="695.10" x2="525.00" y2="695.10" stroke="rgba(70,72,80,0.2)" stroke-width="1"/>
<line x1="479.00" y1="683.70" x2="525.00" y2="683.70" stroke="rgba(70,72,80,0.2)" stroke-width="1"/>
<line x1="479.00" y1="672.50" x2="525.00" y2="672.50" stroke="rgba(70,72,80,0.2)" stroke-width="1"/>
<rect x="546.00" y="538.00" width="46" height="179.60" fill="rgba(176,186,178,0.41)"/>
<rect x="612.00" y="538.00" width="46" height="179.60" fill="rgba(176,186,178,0.41)"/>
<rect x="612.00" y="701.40" width="46" height="16.20" fill="#78b8fb"/>
<rect x="612.00" y="684.90" width="46" height="16.50" fill="#a1a7e6"/>
<rect x="612.00" y="668.00" width="46" height="16.90" fill="#2ea2e8"/>
<rect x="612.00" y="651.30" width="46" height="16.70" fill="#45bdbd"/>
<rect x="612.00" y="634.10" width="46" height="17.20" fill="#ebbe93"/>
<line x1="612.00" y1="701.40" x2="658.00" y2="701.40" stroke="rgba(70,72,80,0.2)" stroke-width="1"/>
<line x1="612.00" y1="684.90" x2="658.00" y2="684.90" stroke="rgba(70,72,80,0.2)" stroke-width="1"/>
<line x1="612.00" y1="668.00" x2="658.00" y2="668.00" stroke="rgba(70,72,80,0.2)" stroke-width="1"/>
<line x1="612.00" y1="651.30" x2="658.00" y2="651.30" stroke="rgba(70,72,80,0.2)" stroke-width="1"/>
<rect x="679.00" y="538.00" width="46" height="179.60" fill="rgba(176,186,178,0.41)"/>
<rect x="679.00" y="704.90" width="46" height="12.70" fill="#78b8fb"/>
<rect x="679.00" y="688.70" width="46" height="16.20" fill="#a1a7e6"/>
<rect x="679.00" y="672.50" width="46" height="16.20" fill="#2ea2e8"/>
<rect x="679.00" y="656.30" width="46" height="16.20" fill="#45bdbd"/>
<rect x="679.00" y="639.80" width="46" height="16.50" fill="#ebbe93"/>
<line x1="679.00" y1="704.90" x2="725.00" y2="704.90" stroke="rgba(70,72,80,0.2)" stroke-width="1"/>
<line x1="679.00" y1="688.70" x2="725.00" y2="688.70" stroke="rgba(70,72,80,0.2)" stroke-width="1"/>
<line x1="679.00" y1="672.50" x2="725.00" y2="672.50" stroke="rgba(70,72,80,0.2)" stroke-width="1"/>
<line x1="679.00" y1="656.30" x2="725.00" y2="656.30" stroke="rgba(70,72,80,0.2)" stroke-width="1"/>
<rect x="745.00" y="538.00" width="46" height="179.60" fill="rgba(176,186,178,0.41)"/>
<rect x="745.00" y="703.90" width="46" height="13.70" fill="#78b8fb"/>
<rect x="745.00" y="690.40" width="46" height="13.50" fill="#a1a7e6"/>
<rect x="745.00" y="666.00" width="46" height="24.40" fill="#2ea2e8"/>
<rect x="745.00" y="641.50" width="46" height="24.50" fill="#45bdbd"/>
<rect x="745.00" y="617.10" width="46" height="24.40" fill="#ebbe93"/>
<line x1="745.00" y1="703.90" x2="791.00" y2="703.90" stroke="rgba(70,72,80,0.2)" stroke-width="1"/>
<line x1="745.00" y1="690.40" x2="791.00" y2="690.40" stroke="rgba(70,72,80,0.2)" stroke-width="1"/>
<line x1="745.00" y1="666.00" x2="791.00" y2="666.00" stroke="rgba(70,72,80,0.2)" stroke-width="1"/>
<line x1="745.00" y1="641.50" x2="791.00" y2="641.50" stroke="rgba(70,72,80,0.2)" stroke-width="1"/>
<rect x="812.00" y="538.00" width="46" height="179.60" fill="rgba(176,186,178,0.41)"/>
<rect x="812.00" y="697.60" width="46" height="20.00" fill="#78b8fb"/>
<rect x="812.00" y="677.90" width="46" height="19.70" fill="#a1a7e6"/>
<rect x="812.00" y="658.00" width="46" height="19.90" fill="#2ea2e8"/>
<rect x="812.00" y="638.10" width="46" height="19.90" fill="#45bdbd"/>
<rect x="812.00" y="618.10" width="46" height="20.00" fill="#ebbe93"/>
<line x1="812.00" y1="697.60" x2="858.00" y2="697.60" stroke="rgba(70,72,80,0.2)" stroke-width="1"/>
<line x1="812.00" y1="677.90" x2="858.00" y2="677.90" stroke="rgba(70,72,80,0.2)" stroke-width="1"/>
<line x1="812.00" y1="658.00" x2="858.00" y2="658.00" stroke="rgba(70,72,80,0.2)" stroke-width="1"/>
<line x1="812.00" y1="638.10" x2="858.00" y2="638.10" stroke="rgba(70,72,80,0.2)" stroke-width="1"/>
<rect x="878.00" y="538.00" width="46" height="179.60" fill="rgba(176,186,178,0.41)"/>
<rect x="878.00" y="704.10" width="46" height="13.50" fill="#78b8fb"/>
<rect x="878.00" y="690.70" width="46" height="13.40" fill="#a1a7e6"/>
<rect x="878.00" y="673.00" width="46" height="17.70" fill="#2ea2e8"/>
<rect x="878.00" y="655.30" width="46" height="17.70" fill="#45bdbd"/>
<rect x="878.00" y="637.30" width="46" height="18.00" fill="#ebbe93"/>
<line x1="878.00" y1="704.10" x2="924.00" y2="704.10" stroke="rgba(70,72,80,0.2)" stroke-width="1"/>
<line x1="878.00" y1="690.70" x2="924.00" y2="690.70" stroke="rgba(70,72,80,0.2)" stroke-width="1"/>
<line x1="878.00" y1="673.00" x2="924.00" y2="673.00" stroke="rgba(70,72,80,0.2)" stroke-width="1"/>
<line x1="878.00" y1="655.30" x2="924.00" y2="655.30" stroke="rgba(70,72,80,0.2)" stroke-width="1"/>
<rect x="945.00" y="538.00" width="46" height="179.60" fill="rgba(176,186,178,0.41)"/>
<rect x="945.00" y="706.40" width="46" height="11.20" fill="#78b8fb"/>
<rect x="945.00" y="694.40" width="46" height="12.00" fill="#a1a7e6"/>
<rect x="945.00" y="682.20" width="46" height="12.20" fill="#2ea2e8"/>
<rect x="945.00" y="670.20" width="46" height="12.00" fill="#45bdbd"/>
<rect x="945.00" y="658.00" width="46" height="12.20" fill="#ebbe93"/>
<line x1="945.00" y1="706.40" x2="991.00" y2="706.40" stroke="rgba(70,72,80,0.2)" stroke-width="1"/>
<line x1="945.00" y1="694.40" x2="991.00" y2="694.40" stroke="rgba(70,72,80,0.2)" stroke-width="1"/>
<line x1="945.00" y1="682.20" x2="991.00" y2="682.20" stroke="rgba(70,72,80,0.2)" stroke-width="1"/>
<line x1="945.00" y1="670.20" x2="991.00" y2="670.20" stroke="rgba(70,72,80,0.2)" stroke-width="1"/>
<rect x="1011.00" y="538.00" width="46" height="179.60" fill="rgba(176,186,178,0.41)"/>
<rect x="1011.00" y="684.20" width="46" height="33.40" fill="#78b8fb"/>
<rect x="1011.00" y="650.80" width="46" height="33.40" fill="#a1a7e6"/>
<rect x="1011.00" y="617.10" width="46" height="33.70" fill="#2ea2e8"/>
<rect x="1011.00" y="583.70" width="46" height="33.40" fill="#45bdbd"/>
<rect x="1011.00" y="550.10" width="46" height="33.60" fill="#ebbe93"/>
<line x1="1011.00" y1="684.20" x2="1057.00" y2="684.20" stroke="rgba(70,72,80,0.2)" stroke-width="1"/>
<line x1="1011.00" y1="650.80" x2="1057.00" y2="650.80" stroke="rgba(70,72,80,0.2)" stroke-width="1"/>
<line x1="1011.00" y1="617.10" x2="1057.00" y2="617.10" stroke="rgba(70,72,80,0.2)" stroke-width="1"/>
<line x1="1011.00" y1="583.70" x2="1057.00" y2="583.70" stroke="rgba(70,72,80,0.2)" stroke-width="1"/>
<rect x="1078.00" y="538.00" width="46" height="179.60" fill="rgba(176,186,178,0.41)"/>
<rect x="1078.00" y="702.60" width="46" height="15.00" fill="#78b8fb"/>
<rect x="1078.00" y="685.20" width="46" height="17.40" fill="#a1a7e6"/>
<rect x="1078.00" y="667.20" width="46" height="18.00" fill="#2ea2e8"/>
<rect x="1078.00" y="648.50" width="46" height="18.70" fill="#45bdbd"/>
<rect x="1078.00" y="629.80" width="46" height="18.70" fill="#ebbe93"/>
<line x1="1078.00" y1="702.60" x2="1124.00" y2="702.60" stroke="rgba(70,72,80,0.2)" stroke-width="1"/>
<line x1="1078.00" y1="685.20" x2="1124.00" y2="685.20" stroke="rgba(70,72,80,0.2)" stroke-width="1"/>
<line x1="1078.00" y1="667.20" x2="1124.00" y2="667.20" stroke="rgba(70,72,80,0.2)" stroke-width="1"/>
<line x1="1078.00" y1="648.50" x2="1124.00" y2="648.50" stroke="rgba(70,72,80,0.2)" stroke-width="1"/>
<rect x="1144.00" y="538.00" width="46" height="179.60" fill="rgba(176,186,178,0.41)"/>
<rect x="1144.00" y="699.60" width="46" height="18.00" fill="#78b8fb"/>
<rect x="1144.00" y="680.90" width="46" height="18.70" fill="#a1a7e6"/>
<rect x="1144.00" y="662.50" width="46" height="18.40" fill="#2ea2e8"/>
<rect x="1144.00" y="643.80" width="46" height="18.70" fill="#45bdbd"/>
<rect x="1144.00" y="624.80" width="46" height="19.00" fill="#ebbe93"/>
<line x1="1144.00" y1="699.60" x2="1190.00" y2="699.60" stroke="rgba(70,72,80,0.2)" stroke-width="1"/>
<line x1="1144.00" y1="680.90" x2="1190.00" y2="680.90" stroke="rgba(70,72,80,0.2)" stroke-width="1"/>
<line x1="1144.00" y1="662.50" x2="1190.00" y2="662.50" stroke="rgba(70,72,80,0.2)" stroke-width="1"/>
<line x1="1144.00" y1="643.80" x2="1190.00" y2="643.80" stroke="rgba(70,72,80,0.2)" stroke-width="1"/>
<line x1="170.5" y1="717.60" x2="170.5" y2="724.20" stroke="#5c5e63" stroke-width="1.3"/>
<text x="169.56" y="743.90" text-anchor="middle" font-size="18" fill="#9fa4ae">20<tspan dx="-1.4">:</tspan><tspan dx="-1.4">51</tspan></text>
<text x="169.56" y="760.90" text-anchor="middle" font-size="18" fill="#9fa4ae">03-20</text>
<line x1="236.5" y1="717.60" x2="236.5" y2="724.20" stroke="#5c5e63" stroke-width="1.3"/>
<text x="236.07" y="743.90" text-anchor="middle" font-size="18" fill="#9fa4ae">20<tspan dx="-1.4">:</tspan><tspan dx="-1.4">52</tspan></text>
<text x="236.07" y="760.90" text-anchor="middle" font-size="18" fill="#9fa4ae">03-20</text>
<line x1="303.5" y1="717.60" x2="303.5" y2="724.20" stroke="#5c5e63" stroke-width="1.3"/>
<text x="302.58" y="743.90" text-anchor="middle" font-size="18" fill="#9fa4ae">20<tspan dx="-1.4">:</tspan><tspan dx="-1.4">53</tspan></text>
<text x="302.58" y="760.90" text-anchor="middle" font-size="18" fill="#9fa4ae">03-20</text>
<line x1="369.5" y1="717.60" x2="369.5" y2="724.20" stroke="#5c5e63" stroke-width="1.3"/>
<text x="369.09" y="743.90" text-anchor="middle" font-size="18" fill="#9fa4ae">20<tspan dx="-1.4">:</tspan><tspan dx="-1.4">54</tspan></text>
<text x="369.09" y="760.90" text-anchor="middle" font-size="18" fill="#9fa4ae">03-20</text>
<line x1="436.5" y1="717.60" x2="436.5" y2="724.20" stroke="#5c5e63" stroke-width="1.3"/>
<text x="435.61" y="743.90" text-anchor="middle" font-size="18" fill="#9fa4ae">20<tspan dx="-1.4">:</tspan><tspan dx="-1.4">55</tspan></text>
<text x="435.61" y="760.90" text-anchor="middle" font-size="18" fill="#9fa4ae">03-20</text>
<line x1="502.5" y1="717.60" x2="502.5" y2="724.20" stroke="#5c5e63" stroke-width="1.3"/>
<text x="502.12" y="743.90" text-anchor="middle" font-size="18" fill="#9fa4ae">20<tspan dx="-1.4">:</tspan><tspan dx="-1.4">56</tspan></text>
<text x="502.12" y="760.90" text-anchor="middle" font-size="18" fill="#9fa4ae">03-20</text>
<line x1="569.5" y1="717.60" x2="569.5" y2="724.20" stroke="#5c5e63" stroke-width="1.3"/>
<text x="568.63" y="743.90" text-anchor="middle" font-size="18" fill="#9fa4ae">20<tspan dx="-1.4">:</tspan><tspan dx="-1.4">57</tspan></text>
<text x="568.63" y="760.90" text-anchor="middle" font-size="18" fill="#9fa4ae">03-20</text>
<line x1="635.5" y1="717.60" x2="635.5" y2="724.20" stroke="#5c5e63" stroke-width="1.3"/>
<text x="635.14" y="743.90" text-anchor="middle" font-size="18" fill="#9fa4ae">20<tspan dx="-1.4">:</tspan><tspan dx="-1.4">58</tspan></text>
<text x="635.14" y="760.90" text-anchor="middle" font-size="18" fill="#9fa4ae">03-20</text>
<line x1="702.5" y1="717.60" x2="702.5" y2="724.20" stroke="#5c5e63" stroke-width="1.3"/>
<text x="701.66" y="743.90" text-anchor="middle" font-size="18" fill="#9fa4ae">20<tspan dx="-1.4">:</tspan><tspan dx="-1.4">59</tspan></text>
<text x="701.66" y="760.90" text-anchor="middle" font-size="18" fill="#9fa4ae">03-20</text>
<line x1="768.5" y1="717.60" x2="768.5" y2="724.20" stroke="#5c5e63" stroke-width="1.3"/>
<text x="768.17" y="743.90" text-anchor="middle" font-size="18" fill="#9fa4ae">21<tspan dx="-1.4">:</tspan><tspan dx="-1.4">00</tspan></text>
<text x="768.17" y="760.90" text-anchor="middle" font-size="18" fill="#9fa4ae">03-20</text>
<line x1="835.5" y1="717.60" x2="835.5" y2="724.20" stroke="#5c5e63" stroke-width="1.3"/>
<text x="834.68" y="743.90" text-anchor="middle" font-size="18" fill="#9fa4ae">21<tspan dx="-1.4">:</tspan><tspan dx="-1.4">01</tspan></text>
<text x="834.68" y="760.90" text-anchor="middle" font-size="18" fill="#9fa4ae">03-20</text>
<line x1="901.5" y1="717.60" x2="901.5" y2="724.20" stroke="#5c5e63" stroke-width="1.3"/>
<text x="901.19" y="743.90" text-anchor="middle" font-size="18" fill="#9fa4ae">21<tspan dx="-1.4">:</tspan><tspan dx="-1.4">02</tspan></text>
<text x="901.19" y="760.90" text-anchor="middle" font-size="18" fill="#9fa4ae">03-20</text>
<line x1="968.5" y1="717.60" x2="968.5" y2="724.20" stroke="#5c5e63" stroke-width="1.3"/>
<text x="967.71" y="743.90" text-anchor="middle" font-size="18" fill="#9fa4ae">21<tspan dx="-1.4">:</tspan><tspan dx="-1.4">03</tspan></text>
<text x="967.71" y="760.90" text-anchor="middle" font-size="18" fill="#9fa4ae">03-20</text>
<line x1="1034.5" y1="717.60" x2="1034.5" y2="724.20" stroke="#5c5e63" stroke-width="1.3"/>
<text x="1034.22" y="743.90" text-anchor="middle" font-size="18" fill="#9fa4ae">21<tspan dx="-1.4">:</tspan><tspan dx="-1.4">04</tspan></text>
<text x="1034.22" y="760.90" text-anchor="middle" font-size="18" fill="#9fa4ae">03-20</text>
<line x1="1101.5" y1="717.60" x2="1101.5" y2="724.20" stroke="#5c5e63" stroke-width="1.3"/>
<text x="1100.73" y="743.90" text-anchor="middle" font-size="18" fill="#9fa4ae">21<tspan dx="-1.4">:</tspan><tspan dx="-1.4">05</tspan></text>
<text x="1100.73" y="760.90" text-anchor="middle" font-size="18" fill="#9fa4ae">03-20</text>
<line x1="1167.5" y1="717.60" x2="1167.5" y2="724.20" stroke="#5c5e63" stroke-width="1.3"/>
<text x="1167.24" y="743.90" text-anchor="middle" font-size="18" fill="#9fa4ae">21<tspan dx="-1.4">:</tspan><tspan dx="-1.4">06</tspan></text>
<text x="1167.24" y="760.90" text-anchor="middle" font-size="18" fill="#9fa4ae">03-20</text>
<line x1="1322.9" y1="718.10" x2="2387.5" y2="718.10" stroke="#4a4b4f" stroke-width="1.5" stroke-dasharray="5.8 3.2"/>
<text x="1311.70" y="723.85" text-anchor="end" font-size="18" fill="#9fa4ae">0</text>
<line x1="1322.9" y1="688.10" x2="2387.5" y2="688.10" stroke="#4a4b4f" stroke-width="1.5" stroke-dasharray="5.8 3.2"/>
<text x="1311.70" y="693.85" text-anchor="end" font-size="18" fill="#9fa4ae">3<tspan dx="-1.4">,</tspan><tspan dx="-1.4">000</tspan></text>
<line x1="1322.9" y1="658.10" x2="2387.5" y2="658.10" stroke="#4a4b4f" stroke-width="1.5" stroke-dasharray="5.8 3.2"/>
<text x="1311.70" y="663.85" text-anchor="end" font-size="18" fill="#9fa4ae">6<tspan dx="-1.4">,</tspan><tspan dx="-1.4">000</tspan></text>
<line x1="1322.9" y1="628.10" x2="2387.5" y2="628.10" stroke="#4a4b4f" stroke-width="1.5" stroke-dasharray="5.8 3.2"/>
<text x="1311.70" y="633.85" text-anchor="end" font-size="18" fill="#9fa4ae">9<tspan dx="-1.4">,</tspan><tspan dx="-1.4">000</tspan></text>
<line x1="1322.9" y1="598.10" x2="2387.5" y2="598.10" stroke="#4a4b4f" stroke-width="1.5" stroke-dasharray="5.8 3.2"/>
<text x="1311.70" y="603.85" text-anchor="end" font-size="18" fill="#9fa4ae">12<tspan dx="-1.4">,</tspan><tspan dx="-1.4">000</tspan></text>
<line x1="1322.9" y1="568.10" x2="2387.5" y2="568.10" stroke="#4a4b4f" stroke-width="1.5" stroke-dasharray="5.8 3.2"/>
<text x="1311.70" y="573.85" text-anchor="end" font-size="18" fill="#9fa4ae">15<tspan dx="-1.4">,</tspan><tspan dx="-1.4">000</tspan></text>
<line x1="1322.9" y1="538.10" x2="2387.5" y2="538.10" stroke="#4a4b4f" stroke-width="1.5" stroke-dasharray="5.8 3.2"/>
<text x="1311.70" y="543.85" text-anchor="end" font-size="18" fill="#9fa4ae">18<tspan dx="-1.4">,</tspan><tspan dx="-1.4">000</tspan></text>
<rect x="1333.00" y="538.00" width="46" height="179.60" fill="rgba(176,186,178,0.41)"/>
<rect x="1333.00" y="706.40" width="46" height="11.20" fill="#78b8fb"/>
<rect x="1333.00" y="666.00" width="46" height="40.40" fill="#a1a7e6"/>
<rect x="1333.00" y="625.10" width="46" height="40.90" fill="#2ea2e8"/>
<rect x="1333.00" y="584.20" width="46" height="40.90" fill="#45bdbd"/>
<rect x="1333.00" y="543.10" width="46" height="41.10" fill="#ebbe93"/>
<line x1="1333.00" y1="706.40" x2="1379.00" y2="706.40" stroke="rgba(70,72,80,0.2)" stroke-width="1"/>
<line x1="1333.00" y1="666.00" x2="1379.00" y2="666.00" stroke="rgba(70,72,80,0.2)" stroke-width="1"/>
<line x1="1333.00" y1="625.10" x2="1379.00" y2="625.10" stroke="rgba(70,72,80,0.2)" stroke-width="1"/>
<line x1="1333.00" y1="584.20" x2="1379.00" y2="584.20" stroke="rgba(70,72,80,0.2)" stroke-width="1"/>
<rect x="1400.00" y="538.00" width="46" height="179.60" fill="rgba(176,186,178,0.41)"/>
<rect x="1466.00" y="538.00" width="46" height="179.60" fill="rgba(176,186,178,0.41)"/>
<rect x="1466.00" y="703.60" width="46" height="14.00" fill="#78b8fb"/>
<rect x="1466.00" y="687.70" width="46" height="15.90" fill="#a1a7e6"/>
<rect x="1466.00" y="671.50" width="46" height="16.20" fill="#2ea2e8"/>
<rect x="1466.00" y="655.50" width="46" height="16.00" fill="#45bdbd"/>
<rect x="1466.00" y="639.30" width="46" height="16.20" fill="#ebbe93"/>
<line x1="1466.00" y1="703.60" x2="1512.00" y2="703.60" stroke="rgba(70,72,80,0.2)" stroke-width="1"/>
<line x1="1466.00" y1="687.70" x2="1512.00" y2="687.70" stroke="rgba(70,72,80,0.2)" stroke-width="1"/>
<line x1="1466.00" y1="671.50" x2="1512.00" y2="671.50" stroke="rgba(70,72,80,0.2)" stroke-width="1"/>
<line x1="1466.00" y1="655.50" x2="1512.00" y2="655.50" stroke="rgba(70,72,80,0.2)" stroke-width="1"/>
<rect x="1533.00" y="538.00" width="46" height="179.60" fill="rgba(176,186,178,0.41)"/>
<rect x="1533.00" y="701.90" width="46" height="15.70" fill="#78b8fb"/>
<rect x="1533.00" y="676.70" width="46" height="25.20" fill="#a1a7e6"/>
<rect x="1533.00" y="651.30" width="46" height="25.40" fill="#2ea2e8"/>
<rect x="1533.00" y="625.60" width="46" height="25.70" fill="#45bdbd"/>
<rect x="1533.00" y="599.90" width="46" height="25.70" fill="#ebbe93"/>
<line x1="1533.00" y1="701.90" x2="1579.00" y2="701.90" stroke="rgba(70,72,80,0.2)" stroke-width="1"/>
<line x1="1533.00" y1="676.70" x2="1579.00" y2="676.70" stroke="rgba(70,72,80,0.2)" stroke-width="1"/>
<line x1="1533.00" y1="651.30" x2="1579.00" y2="651.30" stroke="rgba(70,72,80,0.2)" stroke-width="1"/>
<line x1="1533.00" y1="625.60" x2="1579.00" y2="625.60" stroke="rgba(70,72,80,0.2)" stroke-width="1"/>
<rect x="1599.00" y="538.00" width="46" height="179.60" fill="rgba(176,186,178,0.41)"/>
<rect x="1599.00" y="704.60" width="46" height="13.00" fill="#78b8fb"/>
<rect x="1599.00" y="689.40" width="46" height="15.20" fill="#a1a7e6"/>
<rect x="1599.00" y="674.20" width="46" height="15.20" fill="#2ea2e8"/>
<rect x="1599.00" y="659.20" width="46" height="15.00" fill="#45bdbd"/>
<rect x="1599.00" y="644.00" width="46" height="15.20" fill="#ebbe93"/>
<line x1="1599.00" y1="704.60" x2="1645.00" y2="704.60" stroke="rgba(70,72,80,0.2)" stroke-width="1"/>
<line x1="1599.00" y1="689.40" x2="1645.00" y2="689.40" stroke="rgba(70,72,80,0.2)" stroke-width="1"/>
<line x1="1599.00" y1="674.20" x2="1645.00" y2="674.20" stroke="rgba(70,72,80,0.2)" stroke-width="1"/>
<line x1="1599.00" y1="659.20" x2="1645.00" y2="659.20" stroke="rgba(70,72,80,0.2)" stroke-width="1"/>
<rect x="1666.00" y="538.00" width="46" height="179.60" fill="rgba(176,186,178,0.41)"/>
<rect x="1666.00" y="706.60" width="46" height="11.00" fill="#78b8fb"/>
<rect x="1666.00" y="693.70" width="46" height="12.90" fill="#a1a7e6"/>
<rect x="1666.00" y="680.20" width="46" height="13.50" fill="#2ea2e8"/>
<rect x="1666.00" y="667.00" width="46" height="13.20" fill="#45bdbd"/>
<rect x="1666.00" y="653.50" width="46" height="13.50" fill="#ebbe93"/>
<line x1="1666.00" y1="706.60" x2="1712.00" y2="706.60" stroke="rgba(70,72,80,0.2)" stroke-width="1"/>
<line x1="1666.00" y1="693.70" x2="1712.00" y2="693.70" stroke="rgba(70,72,80,0.2)" stroke-width="1"/>
<line x1="1666.00" y1="680.20" x2="1712.00" y2="680.20" stroke="rgba(70,72,80,0.2)" stroke-width="1"/>
<line x1="1666.00" y1="667.00" x2="1712.00" y2="667.00" stroke="rgba(70,72,80,0.2)" stroke-width="1"/>
<rect x="1732.00" y="538.00" width="46" height="179.60" fill="rgba(176,186,178,0.41)"/>
<rect x="1799.00" y="538.00" width="46" height="179.60" fill="rgba(176,186,178,0.41)"/>
<rect x="1799.00" y="699.90" width="46" height="17.70" fill="#78b8fb"/>
<rect x="1799.00" y="681.90" width="46" height="18.00" fill="#a1a7e6"/>
<rect x="1799.00" y="663.00" width="46" height="18.90" fill="#2ea2e8"/>
<rect x="1799.00" y="644.30" width="46" height="18.70" fill="#45bdbd"/>
<rect x="1799.00" y="625.10" width="46" height="19.20" fill="#ebbe93"/>
<line x1="1799.00" y1="699.90" x2="1845.00" y2="699.90" stroke="rgba(70,72,80,0.2)" stroke-width="1"/>
<line x1="1799.00" y1="681.90" x2="1845.00" y2="681.90" stroke="rgba(70,72,80,0.2)" stroke-width="1"/>
<line x1="1799.00" y1="663.00" x2="1845.00" y2="663.00" stroke="rgba(70,72,80,0.2)" stroke-width="1"/>
<line x1="1799.00" y1="644.30" x2="1845.00" y2="644.30" stroke="rgba(70,72,80,0.2)" stroke-width="1"/>
<rect x="1865.00" y="538.00" width="46" height="179.60" fill="rgba(176,186,178,0.41)"/>
<rect x="1865.00" y="704.90" width="46" height="12.70" fill="#78b8fb"/>
<rect x="1865.00" y="687.20" width="46" height="17.70" fill="#a1a7e6"/>
<rect x="1865.00" y="669.00" width="46" height="18.20" fill="#2ea2e8"/>
<rect x="1865.00" y="651.30" width="46" height="17.70" fill="#45bdbd"/>
<rect x="1865.00" y="632.80" width="46" height="18.50" fill="#ebbe93"/>
<line x1="1865.00" y1="704.90" x2="1911.00" y2="704.90" stroke="rgba(70,72,80,0.2)" stroke-width="1"/>
<line x1="1865.00" y1="687.20" x2="1911.00" y2="687.20" stroke="rgba(70,72,80,0.2)" stroke-width="1"/>
<line x1="1865.00" y1="669.00" x2="1911.00" y2="669.00" stroke="rgba(70,72,80,0.2)" stroke-width="1"/>
<line x1="1865.00" y1="651.30" x2="1911.00" y2="651.30" stroke="rgba(70,72,80,0.2)" stroke-width="1"/>
<rect x="1932.00" y="538.00" width="46" height="179.60" fill="rgba(176,186,178,0.41)"/>
<rect x="1932.00" y="691.70" width="46" height="25.90" fill="#78b8fb"/>
<rect x="1932.00" y="666.00" width="46" height="25.70" fill="#a1a7e6"/>
<rect x="1932.00" y="633.10" width="46" height="32.90" fill="#2ea2e8"/>
<rect x="1932.00" y="600.90" width="46" height="32.20" fill="#45bdbd"/>
<rect x="1932.00" y="568.00" width="46" height="32.90" fill="#ebbe93"/>
<line x1="1932.00" y1="691.70" x2="1978.00" y2="691.70" stroke="rgba(70,72,80,0.2)" stroke-width="1"/>
<line x1="1932.00" y1="666.00" x2="1978.00" y2="666.00" stroke="rgba(70,72,80,0.2)" stroke-width="1"/>
<line x1="1932.00" y1="633.10" x2="1978.00" y2="633.10" stroke="rgba(70,72,80,0.2)" stroke-width="1"/>
<line x1="1932.00" y1="600.90" x2="1978.00" y2="600.90" stroke="rgba(70,72,80,0.2)" stroke-width="1"/>
<rect x="1999.00" y="538.00" width="46" height="179.60" fill="rgba(176,186,178,0.41)"/>
<rect x="1999.00" y="697.60" width="46" height="20.00" fill="#78b8fb"/>
<rect x="1999.00" y="677.90" width="46" height="19.70" fill="#a1a7e6"/>
<rect x="1999.00" y="658.00" width="46" height="19.90" fill="#2ea2e8"/>
<rect x="1999.00" y="638.10" width="46" height="19.90" fill="#45bdbd"/>
<rect x="1999.00" y="617.90" width="46" height="20.20" fill="#ebbe93"/>
<line x1="1999.00" y1="697.60" x2="2045.00" y2="697.60" stroke="rgba(70,72,80,0.2)" stroke-width="1"/>
<line x1="1999.00" y1="677.90" x2="2045.00" y2="677.90" stroke="rgba(70,72,80,0.2)" stroke-width="1"/>
<line x1="1999.00" y1="658.00" x2="2045.00" y2="658.00" stroke="rgba(70,72,80,0.2)" stroke-width="1"/>
<line x1="1999.00" y1="638.10" x2="2045.00" y2="638.10" stroke="rgba(70,72,80,0.2)" stroke-width="1"/>
<rect x="2065.00" y="538.00" width="46" height="179.60" fill="rgba(176,186,178,0.41)"/>
<rect x="2065.00" y="702.60" width="46" height="15.00" fill="#78b8fb"/>
<rect x="2065.00" y="687.20" width="46" height="15.40" fill="#a1a7e6"/>
<rect x="2065.00" y="669.20" width="46" height="18.00" fill="#2ea2e8"/>
<rect x="2065.00" y="651.30" width="46" height="17.90" fill="#45bdbd"/>
<rect x="2065.00" y="632.80" width="46" height="18.50" fill="#ebbe93"/>
<line x1="2065.00" y1="702.60" x2="2111.00" y2="702.60" stroke="rgba(70,72,80,0.2)" stroke-width="1"/>
<line x1="2065.00" y1="687.20" x2="2111.00" y2="687.20" stroke="rgba(70,72,80,0.2)" stroke-width="1"/>
<line x1="2065.00" y1="669.20" x2="2111.00" y2="669.20" stroke="rgba(70,72,80,0.2)" stroke-width="1"/>
<line x1="2065.00" y1="651.30" x2="2111.00" y2="651.30" stroke="rgba(70,72,80,0.2)" stroke-width="1"/>
<rect x="2132.00" y="538.00" width="46" height="179.60" fill="rgba(176,186,178,0.41)"/>
<rect x="2132.00" y="703.90" width="46" height="13.70" fill="#78b8fb"/>
<rect x="2132.00" y="689.70" width="46" height="14.20" fill="#a1a7e6"/>
<rect x="2132.00" y="675.00" width="46" height="14.70" fill="#2ea2e8"/>
<rect x="2132.00" y="660.50" width="46" height="14.50" fill="#45bdbd"/>
<rect x="2132.00" y="646.00" width="46" height="14.50" fill="#ebbe93"/>
<line x1="2132.00" y1="703.90" x2="2178.00" y2="703.90" stroke="rgba(70,72,80,0.2)" stroke-width="1"/>
<line x1="2132.00" y1="689.70" x2="2178.00" y2="689.70" stroke="rgba(70,72,80,0.2)" stroke-width="1"/>
<line x1="2132.00" y1="675.00" x2="2178.00" y2="675.00" stroke="rgba(70,72,80,0.2)" stroke-width="1"/>
<line x1="2132.00" y1="660.50" x2="2178.00" y2="660.50" stroke="rgba(70,72,80,0.2)" stroke-width="1"/>
<rect x="2198.00" y="538.00" width="46" height="179.60" fill="rgba(176,186,178,0.41)"/>
<rect x="2198.00" y="682.40" width="46" height="35.20" fill="#78b8fb"/>
<rect x="2198.00" y="647.30" width="46" height="35.10" fill="#a1a7e6"/>
<rect x="2198.00" y="611.90" width="46" height="35.40" fill="#2ea2e8"/>
<rect x="2198.00" y="576.70" width="46" height="35.20" fill="#45bdbd"/>
<rect x="2198.00" y="541.30" width="46" height="35.40" fill="#ebbe93"/>
<line x1="2198.00" y1="682.40" x2="2244.00" y2="682.40" stroke="rgba(70,72,80,0.2)" stroke-width="1"/>
<line x1="2198.00" y1="647.30" x2="2244.00" y2="647.30" stroke="rgba(70,72,80,0.2)" stroke-width="1"/>
<line x1="2198.00" y1="611.90" x2="2244.00" y2="611.90" stroke="rgba(70,72,80,0.2)" stroke-width="1"/>
<line x1="2198.00" y1="576.70" x2="2244.00" y2="576.70" stroke="rgba(70,72,80,0.2)" stroke-width="1"/>
<rect x="2265.00" y="538.00" width="46" height="179.60" fill="rgba(176,186,178,0.41)"/>
<rect x="2265.00" y="700.90" width="46" height="16.70" fill="#78b8fb"/>
<rect x="2265.00" y="681.70" width="46" height="19.20" fill="#a1a7e6"/>
<rect x="2265.00" y="662.00" width="46" height="19.70" fill="#2ea2e8"/>
<rect x="2265.00" y="641.30" width="46" height="20.70" fill="#45bdbd"/>
<rect x="2265.00" y="620.10" width="46" height="21.20" fill="#ebbe93"/>
<line x1="2265.00" y1="700.90" x2="2311.00" y2="700.90" stroke="rgba(70,72,80,0.2)" stroke-width="1"/>
<line x1="2265.00" y1="681.70" x2="2311.00" y2="681.70" stroke="rgba(70,72,80,0.2)" stroke-width="1"/>
<line x1="2265.00" y1="662.00" x2="2311.00" y2="662.00" stroke="rgba(70,72,80,0.2)" stroke-width="1"/>
<line x1="2265.00" y1="641.30" x2="2311.00" y2="641.30" stroke="rgba(70,72,80,0.2)" stroke-width="1"/>
<rect x="2331.00" y="538.00" width="46" height="179.60" fill="rgba(176,186,178,0.41)"/>
<rect x="2331.00" y="698.90" width="46" height="18.70" fill="#78b8fb"/>
<rect x="2331.00" y="678.90" width="46" height="20.00" fill="#a1a7e6"/>
<rect x="2331.00" y="659.20" width="46" height="19.70" fill="#2ea2e8"/>
<rect x="2331.00" y="639.30" width="46" height="19.90" fill="#45bdbd"/>
<rect x="2331.00" y="619.40" width="46" height="19.90" fill="#ebbe93"/>
<line x1="2331.00" y1="698.90" x2="2377.00" y2="698.90" stroke="rgba(70,72,80,0.2)" stroke-width="1"/>
<line x1="2331.00" y1="678.90" x2="2377.00" y2="678.90" stroke="rgba(70,72,80,0.2)" stroke-width="1"/>
<line x1="2331.00" y1="659.20" x2="2377.00" y2="659.20" stroke="rgba(70,72,80,0.2)" stroke-width="1"/>
<line x1="2331.00" y1="639.30" x2="2377.00" y2="639.30" stroke="rgba(70,72,80,0.2)" stroke-width="1"/>
<line x1="1356.5" y1="717.60" x2="1356.5" y2="724.20" stroke="#5c5e63" stroke-width="1.3"/>
<text x="1356.17" y="743.90" text-anchor="middle" font-size="18" fill="#9fa4ae">20<tspan dx="-1.4">:</tspan><tspan dx="-1.4">51</tspan></text>
<text x="1356.17" y="760.90" text-anchor="middle" font-size="18" fill="#9fa4ae">03-20</text>
<line x1="1423.5" y1="717.60" x2="1423.5" y2="724.20" stroke="#5c5e63" stroke-width="1.3"/>
<text x="1422.71" y="743.90" text-anchor="middle" font-size="18" fill="#9fa4ae">20<tspan dx="-1.4">:</tspan><tspan dx="-1.4">52</tspan></text>
<text x="1422.71" y="760.90" text-anchor="middle" font-size="18" fill="#9fa4ae">03-20</text>
<line x1="1489.5" y1="717.60" x2="1489.5" y2="724.20" stroke="#5c5e63" stroke-width="1.3"/>
<text x="1489.24" y="743.90" text-anchor="middle" font-size="18" fill="#9fa4ae">20<tspan dx="-1.4">:</tspan><tspan dx="-1.4">53</tspan></text>
<text x="1489.24" y="760.90" text-anchor="middle" font-size="18" fill="#9fa4ae">03-20</text>
<line x1="1556.5" y1="717.60" x2="1556.5" y2="724.20" stroke="#5c5e63" stroke-width="1.3"/>
<text x="1555.78" y="743.90" text-anchor="middle" font-size="18" fill="#9fa4ae">20<tspan dx="-1.4">:</tspan><tspan dx="-1.4">54</tspan></text>
<text x="1555.78" y="760.90" text-anchor="middle" font-size="18" fill="#9fa4ae">03-20</text>
<line x1="1622.5" y1="717.60" x2="1622.5" y2="724.20" stroke="#5c5e63" stroke-width="1.3"/>
<text x="1622.32" y="743.90" text-anchor="middle" font-size="18" fill="#9fa4ae">20<tspan dx="-1.4">:</tspan><tspan dx="-1.4">55</tspan></text>
<text x="1622.32" y="760.90" text-anchor="middle" font-size="18" fill="#9fa4ae">03-20</text>
<line x1="1689.5" y1="717.60" x2="1689.5" y2="724.20" stroke="#5c5e63" stroke-width="1.3"/>
<text x="1688.86" y="743.90" text-anchor="middle" font-size="18" fill="#9fa4ae">20<tspan dx="-1.4">:</tspan><tspan dx="-1.4">56</tspan></text>
<text x="1688.86" y="760.90" text-anchor="middle" font-size="18" fill="#9fa4ae">03-20</text>
<line x1="1755.5" y1="717.60" x2="1755.5" y2="724.20" stroke="#5c5e63" stroke-width="1.3"/>
<text x="1755.39" y="743.90" text-anchor="middle" font-size="18" fill="#9fa4ae">20<tspan dx="-1.4">:</tspan><tspan dx="-1.4">57</tspan></text>
<text x="1755.39" y="760.90" text-anchor="middle" font-size="18" fill="#9fa4ae">03-20</text>
<line x1="1822.5" y1="717.60" x2="1822.5" y2="724.20" stroke="#5c5e63" stroke-width="1.3"/>
<text x="1821.93" y="743.90" text-anchor="middle" font-size="18" fill="#9fa4ae">20<tspan dx="-1.4">:</tspan><tspan dx="-1.4">58</tspan></text>
<text x="1821.93" y="760.90" text-anchor="middle" font-size="18" fill="#9fa4ae">03-20</text>
<line x1="1888.5" y1="717.60" x2="1888.5" y2="724.20" stroke="#5c5e63" stroke-width="1.3"/>
<text x="1888.47" y="743.90" text-anchor="middle" font-size="18" fill="#9fa4ae">20<tspan dx="-1.4">:</tspan><tspan dx="-1.4">59</tspan></text>
<text x="1888.47" y="760.90" text-anchor="middle" font-size="18" fill="#9fa4ae">03-20</text>
<line x1="1955.5" y1="717.60" x2="1955.5" y2="724.20" stroke="#5c5e63" stroke-width="1.3"/>
<text x="1955.01" y="743.90" text-anchor="middle" font-size="18" fill="#9fa4ae">21<tspan dx="-1.4">:</tspan><tspan dx="-1.4">00</tspan></text>
<text x="1955.01" y="760.90" text-anchor="middle" font-size="18" fill="#9fa4ae">03-20</text>
<line x1="2022.5" y1="717.60" x2="2022.5" y2="724.20" stroke="#5c5e63" stroke-width="1.3"/>
<text x="2021.54" y="743.90" text-anchor="middle" font-size="18" fill="#9fa4ae">21<tspan dx="-1.4">:</tspan><tspan dx="-1.4">01</tspan></text>
<text x="2021.54" y="760.90" text-anchor="middle" font-size="18" fill="#9fa4ae">03-20</text>
<line x1="2088.5" y1="717.60" x2="2088.5" y2="724.20" stroke="#5c5e63" stroke-width="1.3"/>
<text x="2088.08" y="743.90" text-anchor="middle" font-size="18" fill="#9fa4ae">21<tspan dx="-1.4">:</tspan><tspan dx="-1.4">02</tspan></text>
<text x="2088.08" y="760.90" text-anchor="middle" font-size="18" fill="#9fa4ae">03-20</text>
<line x1="2155.5" y1="717.60" x2="2155.5" y2="724.20" stroke="#5c5e63" stroke-width="1.3"/>
<text x="2154.62" y="743.90" text-anchor="middle" font-size="18" fill="#9fa4ae">21<tspan dx="-1.4">:</tspan><tspan dx="-1.4">03</tspan></text>
<text x="2154.62" y="760.90" text-anchor="middle" font-size="18" fill="#9fa4ae">03-20</text>
<line x1="2221.5" y1="717.60" x2="2221.5" y2="724.20" stroke="#5c5e63" stroke-width="1.3"/>
<text x="2221.16" y="743.90" text-anchor="middle" font-size="18" fill="#9fa4ae">21<tspan dx="-1.4">:</tspan><tspan dx="-1.4">04</tspan></text>
<text x="2221.16" y="760.90" text-anchor="middle" font-size="18" fill="#9fa4ae">03-20</text>
<line x1="2288.5" y1="717.60" x2="2288.5" y2="724.20" stroke="#5c5e63" stroke-width="1.3"/>
<text x="2287.69" y="743.90" text-anchor="middle" font-size="18" fill="#9fa4ae">21<tspan dx="-1.4">:</tspan><tspan dx="-1.4">05</tspan></text>
<text x="2287.69" y="760.90" text-anchor="middle" font-size="18" fill="#9fa4ae">03-20</text>
<line x1="2354.5" y1="717.60" x2="2354.5" y2="724.20" stroke="#5c5e63" stroke-width="1.3"/>
<text x="2354.23" y="743.90" text-anchor="middle" font-size="18" fill="#9fa4ae">21<tspan dx="-1.4">:</tspan><tspan dx="-1.4">06</tspan></text>
<text x="2354.23" y="760.90" text-anchor="middle" font-size="18" fill="#9fa4ae">03-20</text>
</svg>
<svg style="position:absolute;left:1175px;top:114px" width="20" height="20" viewBox="0 0 20 20"><circle cx="10.50" cy="10.50" r="7.6" fill="none" stroke="#ffffff" stroke-width="1.7"/><rect x="9.60" y="10.10" width="1.8" height="4.7" fill="#ffffff"/><rect x="9.60" y="6.20" width="1.8" height="1.7" fill="#ffffff"/></svg><svg style="position:absolute;left:1204px;top:112px" width="10" height="24" viewBox="0 0 10 24"><circle cx="5.40" cy="4.75" r="2.5" fill="#8a8b8d"/><circle cx="5.40" cy="12.60" r="2.5" fill="#8a8b8d"/><circle cx="5.40" cy="20.45" r="2.5" fill="#8a8b8d"/></svg><svg style="position:absolute;left:2362px;top:114px" width="20" height="20" viewBox="0 0 20 20"><circle cx="10.00" cy="10.50" r="7.6" fill="none" stroke="#ffffff" stroke-width="1.7"/><rect x="9.10" y="10.10" width="1.8" height="4.7" fill="#ffffff"/><rect x="9.10" y="6.20" width="1.8" height="1.7" fill="#ffffff"/></svg><svg style="position:absolute;left:2390px;top:112px" width="10" height="24" viewBox="0 0 10 24"><circle cx="5.90" cy="4.75" r="2.5" fill="#8a8b8d"/><circle cx="5.90" cy="12.60" r="2.5" fill="#8a8b8d"/><circle cx="5.90" cy="20.45" r="2.5" fill="#8a8b8d"/></svg><svg style="position:absolute;left:1175px;top:444px" width="20" height="20" viewBox="0 0 20 20"><circle cx="10.50" cy="10.50" r="7.6" fill="none" stroke="#ffffff" stroke-width="1.7"/><rect x="9.60" y="10.10" width="1.8" height="4.7" fill="#ffffff"/><rect x="9.60" y="6.20" width="1.8" height="1.7" fill="#ffffff"/></svg><svg style="position:absolute;left:1204px;top:442px" width="10" height="24" viewBox="0 0 10 24"><circle cx="5.40" cy="4.75" r="2.5" fill="#8a8b8d"/><circle cx="5.40" cy="12.60" r="2.5" fill="#8a8b8d"/><circle cx="5.40" cy="20.45" r="2.5" fill="#8a8b8d"/></svg><svg style="position:absolute;left:2362px;top:444px" width="20" height="20" viewBox="0 0 20 20"><circle cx="10.00" cy="10.50" r="7.6" fill="none" stroke="#ffffff" stroke-width="1.7"/><rect x="9.10" y="10.10" width="1.8" height="4.7" fill="#ffffff"/><rect x="9.10" y="6.20" width="1.8" height="1.7" fill="#ffffff"/></svg><svg style="position:absolute;left:2390px;top:442px" width="10" height="24" viewBox="0 0 10 24"><circle cx="5.90" cy="4.75" r="2.5" fill="#8a8b8d"/><circle cx="5.90" cy="12.60" r="2.5" fill="#8a8b8d"/><circle cx="5.90" cy="20.45" r="2.5" fill="#8a8b8d"/></svg>
<div class="legend" style="left:74.2px;top:485.3px;width:432px;height:37.2px"></div><div class="ldot" style="left:81.6px;top:494.6px;background:#78b8fb"></div><div class="ltxt" style="left:107.1px;top:492.3px">p=50</div><div class="ldot" style="left:168.2px;top:494.6px;background:#a1a7e6"></div><div class="ltxt" style="left:193.7px;top:492.3px">p=75</div><div class="ldot" style="left:254.79999999999995px;top:494.6px;background:#2ea2e8"></div><div class="ltxt" style="left:280.29999999999995px;top:492.3px">p=90</div><div class="ldot" style="left:341.4px;top:494.6px;background:#45bdbd"></div><div class="ltxt" style="left:366.9px;top:492.3px">p=95</div><div class="ldot" style="left:428.0px;top:494.6px;background:#ebbe93"></div><div class="ltxt" style="left:453.5px;top:492.3px">p=99</div><div class="legend" style="left:1260.6px;top:485.3px;width:432px;height:37.2px"></div><div class="ldot" style="left:1268.0px;top:494.6px;background:#78b8fb"></div><div class="ltxt" style="left:1293.5px;top:492.3px">p=50</div><div class="ldot" style="left:1354.6px;top:494.6px;background:#a1a7e6"></div><div class="ltxt" style="left:1380.1px;top:492.3px">p=75</div><div class="ldot" style="left:1441.2px;top:494.6px;background:#2ea2e8"></div><div class="ltxt" style="left:1466.7px;top:492.3px">p=90</div><div class="ldot" style="left:1527.8px;top:494.6px;background:#45bdbd"></div><div class="ltxt" style="left:1553.3px;top:492.3px">p=95</div><div class="ldot" style="left:1614.4px;top:494.6px;background:#ebbe93"></div><div class="ltxt" style="left:1639.9px;top:492.3px">p=99</div>
</body></html>
